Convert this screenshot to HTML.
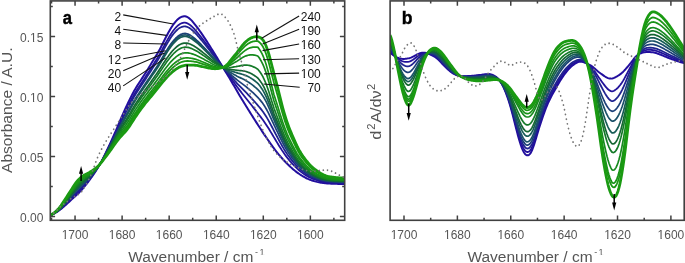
<!DOCTYPE html>
<html><head><meta charset="utf-8"><style>
html,body{margin:0;padding:0;background:#fff;}
svg{display:block;font-family:"Liberation Sans",sans-serif;will-change:transform;}
</style></head><body>
<svg width="685" height="263" viewBox="0 0 685 263">
<rect x="0" y="0" width="685" height="263" fill="#fff"/>
<defs><clipPath id="ca"><rect x="50.30" y="0.90" width="294.40" height="219.40"/></clipPath>
<clipPath id="cb"><rect x="390.10" y="0.90" width="294.10" height="219.40"/></clipPath></defs>
<g clip-path="url(#ca)">
<path d="M50.0 215.25L51.0 214.97L52.0 214.58L53.0 214.11L54.0 213.59L55.0 213.04L56.0 212.45L57.0 211.83L58.0 211.16L59.0 210.45L60.0 209.71L61.0 208.94L62.0 208.14L63.0 207.32L64.0 206.48L65.0 205.61L66.0 204.71L67.0 203.79L68.0 202.86L69.0 201.92L70.0 200.98L71.0 200.04L72.0 199.11L73.0 198.20L74.0 197.29L75.0 196.39L76.0 195.49L77.0 194.58L78.0 193.65L79.0 192.68L80.0 191.67L81.0 190.62L82.0 189.52L83.0 188.37L84.0 187.18L85.0 185.94L86.0 184.68L87.0 183.39L88.0 182.08L89.0 180.74L90.0 179.39L91.0 178.01L92.0 176.59L93.0 175.15L94.0 173.67L95.0 172.16L96.0 170.62L97.0 169.03L98.0 167.41L99.0 165.74L100.0 164.03L101.0 162.25L102.0 160.42L103.0 158.51L104.0 156.53L105.0 154.49L106.0 152.40L107.0 150.28L108.0 148.14L109.0 145.99L110.0 143.84L111.0 141.67L112.0 139.48L113.0 137.26L114.0 135.02L115.0 132.75L116.0 130.43L117.0 128.07L118.0 125.66L119.0 123.23L120.0 120.80L121.0 118.41L122.0 116.08L123.0 113.80L124.0 111.58L125.0 109.41L126.0 107.26L127.0 105.15L128.0 103.05L129.0 100.97L130.0 98.90L131.0 96.86L132.0 94.87L133.0 92.95L134.0 91.12L135.0 89.39L136.0 87.73L137.0 86.14L138.0 84.58L139.0 83.04L140.0 81.49L141.0 79.94L142.0 78.39L143.0 76.84L144.0 75.29L145.0 73.73L146.0 72.16L147.0 70.58L148.0 68.97L149.0 67.34L150.0 65.69L151.0 64.02L152.0 62.35L153.0 60.68L154.0 59.03L155.0 57.40L156.0 55.79L157.0 54.16L158.0 52.50L159.0 50.77L160.0 48.95L161.0 47.04L162.0 45.05L163.0 43.02L164.0 40.99L165.0 39.00L166.0 37.06L167.0 35.17L168.0 33.32L169.0 31.50L170.0 29.74L171.0 28.05L172.0 26.46L173.0 24.98L174.0 23.61L175.0 22.34L176.0 21.16L177.0 20.08L178.0 19.12L179.0 18.31L180.0 17.64L181.0 17.11L182.0 16.69L183.0 16.40L184.0 16.25L185.0 16.29L186.0 16.52L187.0 16.93L188.0 17.47L189.0 18.14L190.0 18.93L191.0 19.86L192.0 20.92L193.0 22.07L194.0 23.28L195.0 24.52L196.0 25.79L197.0 27.10L198.0 28.45L199.0 29.83L200.0 31.25L201.0 32.69L202.0 34.14L203.0 35.61L204.0 37.09L205.0 38.59L206.0 40.11L207.0 41.65L208.0 43.20L209.0 44.76L210.0 46.34L211.0 47.92L212.0 49.51L213.0 51.11L214.0 52.72L215.0 54.34L216.0 55.97L217.0 57.61L218.0 59.25L219.0 60.90L220.0 62.55L221.0 64.20L222.0 65.85L223.0 67.49L224.0 69.13L225.0 70.77L226.0 72.40L227.0 74.04L228.0 75.69L229.0 77.34L230.0 79.01L231.0 80.70L232.0 82.41L233.0 84.13L234.0 85.86L235.0 87.60L236.0 89.34L237.0 91.07L238.0 92.78L239.0 94.48L240.0 96.15L241.0 97.81L242.0 99.46L243.0 101.09L244.0 102.72L245.0 104.34L246.0 105.96L247.0 107.57L248.0 109.18L249.0 110.78L250.0 112.38L251.0 113.97L252.0 115.56L253.0 117.15L254.0 118.72L255.0 120.29L256.0 121.85L257.0 123.41L258.0 124.96L259.0 126.50L260.0 128.03L261.0 129.56L262.0 131.08L263.0 132.59L264.0 134.10L265.0 135.59L266.0 137.06L267.0 138.53L268.0 139.98L269.0 141.42L270.0 142.85L271.0 144.27L272.0 145.68L273.0 147.07L274.0 148.43L275.0 149.76L276.0 151.07L277.0 152.34L278.0 153.58L279.0 154.79L280.0 155.97L281.0 157.12L282.0 158.25L283.0 159.36L284.0 160.45L285.0 161.52L286.0 162.57L287.0 163.59L288.0 164.58L289.0 165.54L290.0 166.47L291.0 167.38L292.0 168.27L293.0 169.14L294.0 169.98L295.0 170.81L296.0 171.60L297.0 172.37L298.0 173.10L299.0 173.80L300.0 174.47L301.0 175.11L302.0 175.73L303.0 176.33L304.0 176.91L305.0 177.47L306.0 178.00L307.0 178.49L308.0 178.95L309.0 179.38L310.0 179.77L311.0 180.13L312.0 180.47L313.0 180.79L314.0 181.09L315.0 181.38L316.0 181.64L317.0 181.89L318.0 182.11L319.0 182.30L320.0 182.48L321.0 182.64L322.0 182.79L323.0 182.93L324.0 183.06L325.0 183.18L326.0 183.28L327.0 183.38L328.0 183.46L329.0 183.53L330.0 183.59L331.0 183.64L332.0 183.68L333.0 183.73L334.0 183.76L335.0 183.80L336.0 183.83L337.0 183.87L338.0 183.89L339.0 183.92L340.0 183.94L341.0 183.96L342.0 183.98L343.0 183.99L344.0 183.99L345.0 184.00" stroke="#220e9e" stroke-width="2.00" fill="none" stroke-linejoin="round"/>
<path d="M50.0 215.24L51.0 214.95L52.0 214.54L53.0 214.05L54.0 213.51L55.0 212.93L56.0 212.30L57.0 211.63L58.0 210.92L59.0 210.15L60.0 209.34L61.0 208.49L62.0 207.61L63.0 206.70L64.0 205.77L65.0 204.81L66.0 203.83L67.0 202.83L68.0 201.82L69.0 200.80L70.0 199.77L71.0 198.76L72.0 197.75L73.0 196.75L74.0 195.77L75.0 194.79L76.0 193.83L77.0 192.87L78.0 191.90L79.0 190.92L80.0 189.92L81.0 188.90L82.0 187.84L83.0 186.75L84.0 185.63L85.0 184.49L86.0 183.33L87.0 182.14L88.0 180.92L89.0 179.69L90.0 178.44L91.0 177.16L92.0 175.85L93.0 174.50L94.0 173.13L95.0 171.72L96.0 170.27L97.0 168.79L98.0 167.25L99.0 165.67L100.0 164.03L101.0 162.33L102.0 160.57L103.0 158.74L104.0 156.85L105.0 154.91L106.0 152.92L107.0 150.90L108.0 148.87L109.0 146.82L110.0 144.76L111.0 142.69L112.0 140.60L113.0 138.49L114.0 136.36L115.0 134.19L116.0 132.00L117.0 129.77L118.0 127.50L119.0 125.23L120.0 122.97L121.0 120.74L122.0 118.57L123.0 116.45L124.0 114.38L125.0 112.34L126.0 110.32L127.0 108.32L128.0 106.32L129.0 104.33L130.0 102.34L131.0 100.36L132.0 98.43L133.0 96.55L134.0 94.76L135.0 93.05L136.0 91.42L137.0 89.85L138.0 88.30L139.0 86.78L140.0 85.25L141.0 83.72L142.0 82.19L143.0 80.67L144.0 79.15L145.0 77.63L146.0 76.11L147.0 74.57L148.0 73.01L149.0 71.44L150.0 69.84L151.0 68.24L152.0 66.63L153.0 65.02L154.0 63.43L155.0 61.85L156.0 60.28L157.0 58.70L158.0 57.09L159.0 55.42L160.0 53.67L161.0 51.85L162.0 49.96L163.0 48.04L164.0 46.12L165.0 44.24L166.0 42.41L167.0 40.63L168.0 38.88L169.0 37.17L170.0 35.51L171.0 33.91L172.0 32.41L173.0 31.02L174.0 29.72L175.0 28.52L176.0 27.40L177.0 26.38L178.0 25.46L179.0 24.68L180.0 24.04L181.0 23.52L182.0 23.11L183.0 22.82L184.0 22.66L185.0 22.67L186.0 22.85L187.0 23.19L188.0 23.66L189.0 24.23L190.0 24.92L191.0 25.74L192.0 26.66L193.0 27.66L194.0 28.72L195.0 29.81L196.0 30.93L197.0 32.09L198.0 33.28L199.0 34.51L200.0 35.77L201.0 37.06L202.0 38.35L203.0 39.66L204.0 40.98L205.0 42.31L206.0 43.66L207.0 45.02L208.0 46.40L209.0 47.79L210.0 49.18L211.0 50.56L212.0 51.95L213.0 53.34L214.0 54.74L215.0 56.14L216.0 57.56L217.0 58.97L218.0 60.39L219.0 61.81L220.0 63.23L221.0 64.65L222.0 66.07L223.0 67.48L224.0 68.87L225.0 70.25L226.0 71.62L227.0 72.97L228.0 74.32L229.0 75.68L230.0 77.04L231.0 78.42L232.0 79.82L233.0 81.20L234.0 82.58L235.0 83.97L236.0 85.35L237.0 86.71L238.0 88.05L239.0 89.36L240.0 90.66L241.0 91.93L242.0 93.19L243.0 94.45L244.0 95.70L245.0 96.96L246.0 98.21L247.0 99.47L248.0 100.73L249.0 101.99L250.0 103.26L251.0 104.53L252.0 105.81L253.0 107.08L254.0 108.36L255.0 109.64L256.0 110.92L257.0 112.20L258.0 113.50L259.0 114.77L260.0 116.06L261.0 117.36L262.0 118.68L263.0 120.04L264.0 121.45L265.0 122.89L266.0 124.38L267.0 125.90L268.0 127.46L269.0 129.07L270.0 130.71L271.0 132.39L272.0 134.07L273.0 135.73L274.0 137.37L275.0 139.07L276.0 140.75L277.0 142.40L278.0 144.04L279.0 145.66L280.0 147.26L281.0 148.83L282.0 150.37L283.0 151.87L284.0 153.33L285.0 154.74L286.0 156.11L287.0 157.42L288.0 158.69L289.0 159.90L290.0 161.07L291.0 162.20L292.0 163.30L293.0 164.38L294.0 165.44L295.0 166.48L296.0 167.49L297.0 168.46L298.0 169.38L299.0 170.25L300.0 171.08L301.0 171.87L302.0 172.63L303.0 173.36L304.0 174.06L305.0 174.73L306.0 175.37L307.0 175.98L308.0 176.55L309.0 177.08L310.0 177.57L311.0 178.03L312.0 178.45L313.0 178.86L314.0 179.24L315.0 179.60L316.0 179.93L317.0 180.25L318.0 180.53L319.0 180.80L320.0 181.05L321.0 181.28L322.0 181.50L323.0 181.69L324.0 181.87L325.0 182.03L326.0 182.17L327.0 182.29L328.0 182.40L329.0 182.50L330.0 182.58L331.0 182.65L332.0 182.71L333.0 182.77L334.0 182.82L335.0 182.87L336.0 182.91L337.0 182.95L338.0 182.98L339.0 183.01L340.0 183.04L341.0 183.06L342.0 183.08L343.0 183.09L344.0 183.10L345.0 183.11" stroke="#22129a" stroke-width="1.80" fill="none" stroke-linejoin="round"/>
<path d="M50.0 215.24L51.0 214.94L52.0 214.52L53.0 214.01L54.0 213.46L55.0 212.86L56.0 212.21L57.0 211.52L58.0 210.78L59.0 209.98L60.0 209.13L61.0 208.24L62.0 207.30L63.0 206.34L64.0 205.36L65.0 204.35L66.0 203.32L67.0 202.28L68.0 201.22L69.0 200.15L70.0 199.08L71.0 198.02L72.0 196.96L73.0 195.92L74.0 194.89L75.0 193.87L76.0 192.87L77.0 191.88L78.0 190.90L79.0 189.91L80.0 188.92L81.0 187.90L82.0 186.87L83.0 185.82L84.0 184.74L85.0 183.65L86.0 182.54L87.0 181.41L88.0 180.26L89.0 179.08L90.0 177.89L91.0 176.67L92.0 175.41L93.0 174.13L94.0 172.81L95.0 171.46L96.0 170.07L97.0 168.64L98.0 167.16L99.0 165.62L100.0 164.03L101.0 162.37L102.0 160.65L103.0 158.87L104.0 157.04L105.0 155.15L106.0 153.22L107.0 151.26L108.0 149.29L109.0 147.30L110.0 145.30L111.0 143.29L112.0 141.25L113.0 139.20L114.0 137.12L115.0 135.03L116.0 132.90L117.0 130.74L118.0 128.57L119.0 126.38L120.0 124.22L121.0 122.09L122.0 120.01L123.0 117.98L124.0 115.99L125.0 114.03L126.0 112.08L127.0 110.15L128.0 108.21L129.0 106.27L130.0 104.32L131.0 102.38L132.0 100.48L133.0 98.63L134.0 96.86L135.0 95.17L136.0 93.55L137.0 91.98L138.0 90.45L139.0 88.93L140.0 87.42L141.0 85.90L142.0 84.39L143.0 82.89L144.0 81.38L145.0 79.88L146.0 78.38L147.0 76.87L148.0 75.34L149.0 73.80L150.0 72.24L151.0 70.67L152.0 69.10L153.0 67.53L154.0 65.97L155.0 64.41L156.0 62.87L157.0 61.32L158.0 59.74L159.0 58.10L160.0 56.40L161.0 54.63L162.0 52.79L163.0 50.94L164.0 49.08L165.0 47.26L166.0 45.50L167.0 43.78L168.0 42.09L169.0 40.44L170.0 38.84L171.0 37.30L172.0 35.85L173.0 34.50L174.0 33.25L175.0 32.09L176.0 31.01L177.0 30.01L178.0 29.12L179.0 28.36L180.0 27.73L181.0 27.22L182.0 26.81L183.0 26.52L184.0 26.36L185.0 26.35L186.0 26.50L187.0 26.80L188.0 27.22L189.0 27.75L190.0 28.38L191.0 29.12L192.0 29.97L193.0 30.89L194.0 31.87L195.0 32.87L196.0 33.90L197.0 34.96L198.0 36.07L199.0 37.21L200.0 38.38L201.0 39.58L202.0 40.78L203.0 42.00L204.0 43.22L205.0 44.45L206.0 45.70L207.0 46.97L208.0 48.24L209.0 49.53L210.0 50.82L211.0 52.11L212.0 53.40L213.0 54.69L214.0 55.98L215.0 57.27L216.0 58.56L217.0 59.85L218.0 61.13L219.0 62.41L220.0 63.69L221.0 64.96L222.0 66.22L223.0 67.47L224.0 68.69L225.0 69.88L226.0 71.04L227.0 72.17L228.0 73.28L229.0 74.38L230.0 75.48L231.0 76.59L232.0 77.72L233.0 78.83L234.0 79.94L235.0 81.06L236.0 82.18L237.0 83.27L238.0 84.34L239.0 85.38L240.0 86.40L241.0 87.41L242.0 88.41L243.0 89.41L244.0 90.41L245.0 91.43L246.0 92.45L247.0 93.48L248.0 94.53L249.0 95.58L250.0 96.64L251.0 97.72L252.0 98.81L253.0 99.91L254.0 101.02L255.0 102.13L256.0 103.26L257.0 104.40L258.0 105.56L259.0 106.73L260.0 107.93L261.0 109.16L262.0 110.43L263.0 111.77L264.0 113.19L265.0 114.69L266.0 116.26L267.0 117.89L268.0 119.59L269.0 121.38L270.0 123.23L271.0 125.13L272.0 127.04L273.0 128.93L274.0 130.80L275.0 132.72L276.0 134.61L277.0 136.49L278.0 138.37L279.0 140.23L280.0 142.08L281.0 143.91L282.0 145.69L283.0 147.42L284.0 149.09L285.0 150.71L286.0 152.26L287.0 153.76L288.0 155.19L289.0 156.55L290.0 157.86L291.0 159.12L292.0 160.35L293.0 161.56L294.0 162.74L295.0 163.91L296.0 165.04L297.0 166.13L298.0 167.17L299.0 168.15L300.0 169.07L301.0 169.95L302.0 170.78L303.0 171.59L304.0 172.36L305.0 173.10L306.0 173.81L307.0 174.48L308.0 175.12L309.0 175.71L310.0 176.26L311.0 176.78L312.0 177.26L313.0 177.71L314.0 178.14L315.0 178.54L316.0 178.92L317.0 179.27L318.0 179.60L319.0 179.91L320.0 180.20L321.0 180.47L322.0 180.73L323.0 180.96L324.0 181.17L325.0 181.35L326.0 181.51L327.0 181.65L328.0 181.77L329.0 181.88L330.0 181.98L331.0 182.06L332.0 182.13L333.0 182.20L334.0 182.26L335.0 182.31L336.0 182.36L337.0 182.40L338.0 182.44L339.0 182.47L340.0 182.50L341.0 182.53L342.0 182.55L343.0 182.56L344.0 182.57L345.0 182.58" stroke="#1f2290" stroke-width="1.80" fill="none" stroke-linejoin="round"/>
<path d="M50.0 215.23L51.0 214.91L52.0 214.47L53.0 213.95L54.0 213.36L55.0 212.73L56.0 212.05L57.0 211.31L58.0 210.51L59.0 209.65L60.0 208.72L61.0 207.74L62.0 206.71L63.0 205.65L64.0 204.56L65.0 203.46L66.0 202.34L67.0 201.20L68.0 200.05L69.0 198.90L70.0 197.74L71.0 196.59L72.0 195.45L73.0 194.31L74.0 193.19L75.0 192.09L76.0 191.01L77.0 189.97L78.0 188.95L79.0 187.95L80.0 186.96L81.0 185.98L82.0 184.99L83.0 184.01L84.0 183.03L85.0 182.04L86.0 181.03L87.0 180.01L88.0 178.97L89.0 177.91L90.0 176.83L91.0 175.72L92.0 174.58L93.0 173.41L94.0 172.21L95.0 170.97L96.0 169.69L97.0 168.36L98.0 166.98L99.0 165.54L100.0 164.03L101.0 162.46L102.0 160.82L103.0 159.13L104.0 157.39L105.0 155.61L106.0 153.80L107.0 151.95L108.0 150.09L109.0 148.22L110.0 146.33L111.0 144.43L112.0 142.51L113.0 140.57L114.0 138.61L115.0 136.63L116.0 134.64L117.0 132.63L118.0 130.62L119.0 128.61L120.0 126.63L121.0 124.69L122.0 122.79L123.0 120.93L124.0 119.11L125.0 117.30L126.0 115.50L127.0 113.69L128.0 111.86L129.0 110.02L130.0 108.16L131.0 106.29L132.0 104.45L133.0 102.65L134.0 100.92L135.0 99.26L136.0 97.66L137.0 96.12L138.0 94.60L139.0 93.10L140.0 91.61L141.0 90.12L142.0 88.64L143.0 87.16L144.0 85.70L145.0 84.24L146.0 82.78L147.0 81.32L148.0 79.85L149.0 78.37L150.0 76.88L151.0 75.38L152.0 73.87L153.0 72.37L154.0 70.87L155.0 69.37L156.0 67.88L157.0 66.38L158.0 64.86L159.0 63.29L160.0 61.67L161.0 59.99L162.0 58.27L163.0 56.54L164.0 54.81L165.0 53.11L166.0 51.46L167.0 49.86L168.0 48.29L169.0 46.76L170.0 45.27L171.0 43.84L172.0 42.49L173.0 41.24L174.0 40.07L175.0 38.99L176.0 37.97L177.0 37.04L178.0 36.20L179.0 35.47L180.0 34.86L181.0 34.37L182.0 33.97L183.0 33.68L184.0 33.51L185.0 33.46L186.0 33.56L187.0 33.79L188.0 34.12L189.0 34.55L190.0 35.07L191.0 35.68L192.0 36.37L193.0 37.14L194.0 37.94L195.0 38.77L196.0 39.63L197.0 40.53L198.0 41.46L199.0 42.43L200.0 43.43L201.0 44.45L202.0 45.48L203.0 46.51L204.0 47.55L205.0 48.60L206.0 49.66L207.0 50.73L208.0 51.81L209.0 52.90L210.0 53.99L211.0 55.02L212.0 56.06L213.0 57.10L214.0 58.13L215.0 59.17L216.0 60.21L217.0 61.25L218.0 62.29L219.0 63.33L220.0 64.37L221.0 65.40L222.0 66.44L223.0 67.45L224.0 68.45L225.0 69.40L226.0 70.32L227.0 71.21L228.0 72.08L229.0 72.94L230.0 73.81L231.0 74.70L232.0 75.61L233.0 76.45L234.0 77.30L235.0 78.16L236.0 79.00L237.0 79.83L238.0 80.63L239.0 81.40L240.0 82.15L241.0 82.89L242.0 83.63L243.0 84.37L244.0 85.12L245.0 85.89L246.0 86.69L247.0 87.50L248.0 88.32L249.0 89.16L250.0 90.02L251.0 90.90L252.0 91.81L253.0 92.74L254.0 93.68L255.0 94.63L256.0 95.60L257.0 96.60L258.0 97.62L259.0 98.74L260.0 99.89L261.0 101.10L262.0 102.37L263.0 103.73L264.0 105.21L265.0 106.81L266.0 108.50L267.0 110.28L268.0 112.17L269.0 114.17L270.0 116.26L271.0 118.40L272.0 120.57L273.0 122.71L274.0 124.82L275.0 126.94L276.0 129.03L277.0 131.12L278.0 133.21L279.0 135.30L280.0 137.38L281.0 139.43L282.0 141.43L283.0 143.37L284.0 145.24L285.0 147.04L286.0 148.77L287.0 150.42L288.0 152.00L289.0 153.50L290.0 154.94L291.0 156.32L292.0 157.66L293.0 158.99L294.0 160.29L295.0 161.57L296.0 162.81L297.0 164.01L298.0 165.15L299.0 166.23L300.0 167.24L301.0 168.19L302.0 169.11L303.0 169.98L304.0 170.81L305.0 171.62L306.0 172.39L307.0 173.12L308.0 173.82L309.0 174.47L310.0 175.08L311.0 175.64L312.0 176.17L313.0 176.66L314.0 177.13L315.0 177.57L316.0 177.99L317.0 178.38L318.0 178.75L319.0 179.10L320.0 179.43L321.0 179.74L322.0 180.03L323.0 180.29L324.0 180.52L325.0 180.73L326.0 180.91L327.0 181.06L328.0 181.20L329.0 181.32L330.0 181.43L331.0 181.52L332.0 181.61L333.0 181.68L334.0 181.75L335.0 181.80L336.0 181.86L337.0 181.90L338.0 181.94L339.0 181.98L340.0 182.01L341.0 182.04L342.0 182.07L343.0 182.08L344.0 182.09L345.0 182.10" stroke="#1c4078" stroke-width="1.70" fill="none" stroke-linejoin="round"/>
<path d="M50.0 215.22L51.0 214.91L52.0 214.46L53.0 213.93L54.0 213.34L55.0 212.70L56.0 212.01L57.0 211.26L58.0 210.45L59.0 209.58L60.0 208.64L61.0 207.64L62.0 206.59L63.0 205.51L64.0 204.40L65.0 203.28L66.0 202.14L67.0 200.98L68.0 199.81L69.0 198.64L70.0 197.46L71.0 196.30L72.0 195.13L73.0 193.98L74.0 192.84L75.0 191.72L76.0 190.62L77.0 189.57L78.0 188.55L79.0 187.55L80.0 186.56L81.0 185.58L82.0 184.61L83.0 183.64L84.0 182.67L85.0 181.70L86.0 180.72L87.0 179.72L88.0 178.71L89.0 177.67L90.0 176.61L91.0 175.52L92.0 174.41L93.0 173.26L94.0 172.08L95.0 170.87L96.0 169.61L97.0 168.31L98.0 166.95L99.0 165.52L100.0 164.03L101.0 162.47L102.0 160.86L103.0 159.19L104.0 157.47L105.0 155.71L106.0 153.92L107.0 152.10L108.0 150.26L109.0 148.41L110.0 146.55L111.0 144.67L112.0 142.77L113.0 140.85L114.0 138.92L115.0 136.97L116.0 135.00L117.0 133.03L118.0 131.05L119.0 129.08L120.0 127.13L121.0 125.23L122.0 123.36L123.0 121.54L124.0 119.75L125.0 117.97L126.0 116.20L127.0 114.42L128.0 112.62L129.0 110.79L130.0 108.95L131.0 107.10L132.0 105.27L133.0 103.49L134.0 101.76L135.0 100.10L136.0 98.51L137.0 96.97L138.0 95.46L139.0 93.97L140.0 92.48L141.0 90.99L142.0 89.52L143.0 88.05L144.0 86.59L145.0 85.14L146.0 83.69L147.0 82.24L148.0 80.78L149.0 79.32L150.0 77.84L151.0 76.35L152.0 74.86L153.0 73.37L154.0 71.88L155.0 70.40L156.0 68.92L157.0 67.43L158.0 65.91L159.0 64.36L160.0 62.76L161.0 61.10L162.0 59.41L163.0 57.69L164.0 55.99L165.0 54.32L166.0 52.70L167.0 51.12L168.0 49.58L169.0 48.07L170.0 46.60L171.0 45.20L172.0 43.87L173.0 42.63L174.0 41.48L175.0 40.41L176.0 39.41L177.0 38.49L178.0 37.66L179.0 36.94L180.0 36.34L181.0 35.85L182.0 35.46L183.0 35.16L184.0 34.99L185.0 34.94L186.0 35.02L187.0 35.23L188.0 35.55L189.0 35.96L190.0 36.45L191.0 37.03L192.0 37.70L193.0 38.43L194.0 39.20L195.0 39.99L196.0 40.82L197.0 41.68L198.0 42.58L199.0 43.51L200.0 44.47L201.0 45.46L202.0 46.45L203.0 47.45L204.0 48.45L205.0 49.46L206.0 50.48L207.0 51.51L208.0 52.55L209.0 53.60L210.0 54.65L211.0 55.70L212.0 56.74L213.0 57.78L214.0 58.81L215.0 59.83L216.0 60.83L217.0 61.82L218.0 62.79L219.0 63.76L220.0 64.71L221.0 65.64L222.0 66.56L223.0 67.45L224.0 68.28L225.0 69.06L226.0 69.78L227.0 70.44L228.0 71.06L229.0 71.64L230.0 72.20L231.0 72.75L232.0 73.31L233.0 73.87L234.0 74.44L235.0 75.02L236.0 75.59L237.0 76.14L238.0 76.66L239.0 77.16L240.0 77.64L241.0 78.11L242.0 78.58L243.0 79.07L244.0 79.58L245.0 80.12L246.0 80.69L247.0 81.28L248.0 81.90L249.0 82.54L250.0 83.22L251.0 83.92L252.0 84.67L253.0 85.44L254.0 86.23L255.0 87.05L256.0 87.89L257.0 88.76L258.0 89.69L259.0 90.83L260.0 92.04L261.0 93.31L262.0 94.67L263.0 96.16L264.0 97.79L265.0 99.57L266.0 101.47L267.0 103.49L268.0 105.63L269.0 107.91L270.0 110.29L271.0 112.75L272.0 115.21L273.0 117.65L274.0 120.04L275.0 122.32L276.0 124.57L277.0 126.83L278.0 129.08L279.0 131.35L280.0 133.61L281.0 135.85L282.0 138.03L283.0 140.14L284.0 142.16L285.0 144.11L286.0 145.98L287.0 147.76L288.0 149.46L289.0 151.07L290.0 152.60L291.0 154.08L292.0 155.52L293.0 156.93L294.0 158.32L295.0 159.70L296.0 161.03L297.0 162.32L298.0 163.54L299.0 164.69L300.0 165.77L301.0 166.79L302.0 167.76L303.0 168.69L304.0 169.58L305.0 170.43L306.0 171.25L307.0 172.04L308.0 172.78L309.0 173.48L310.0 174.13L311.0 174.73L312.0 175.30L313.0 175.83L314.0 176.33L315.0 176.80L316.0 177.25L317.0 177.67L318.0 178.07L319.0 178.45L320.0 178.81L321.0 179.15L322.0 179.47L323.0 179.76L324.0 180.01L325.0 180.23L326.0 180.42L327.0 180.59L328.0 180.74L329.0 180.88L330.0 180.99L331.0 181.10L332.0 181.19L333.0 181.27L334.0 181.34L335.0 181.40L336.0 181.45L337.0 181.50L338.0 181.55L339.0 181.59L340.0 181.62L341.0 181.65L342.0 181.68L343.0 181.70L344.0 181.71L345.0 181.72" stroke="#1a5068" stroke-width="1.70" fill="none" stroke-linejoin="round"/>
<path d="M50.0 215.22L51.0 214.90L52.0 214.46L53.0 213.92L54.0 213.32L55.0 212.67L56.0 211.98L57.0 211.22L58.0 210.40L59.0 209.51L60.0 208.55L61.0 207.53L62.0 206.47L63.0 205.36L64.0 204.24L65.0 203.09L66.0 201.93L67.0 200.76L68.0 199.57L69.0 198.38L70.0 197.19L71.0 196.00L72.0 194.82L73.0 193.65L74.0 192.49L75.0 191.35L76.0 190.24L77.0 189.17L78.0 188.14L79.0 187.14L80.0 186.16L81.0 185.18L82.0 184.22L83.0 183.26L84.0 182.31L85.0 181.37L86.0 180.41L87.0 179.43L88.0 178.44L89.0 177.43L90.0 176.39L91.0 175.33L92.0 174.23L93.0 173.11L94.0 171.96L95.0 170.76L96.0 169.53L97.0 168.25L98.0 166.91L99.0 165.50L100.0 164.03L101.0 162.49L102.0 160.89L103.0 159.24L104.0 157.54L105.0 155.80L106.0 154.04L107.0 152.24L108.0 150.43L109.0 148.60L110.0 146.76L111.0 144.91L112.0 143.03L113.0 141.14L114.0 139.22L115.0 137.30L116.0 135.36L117.0 133.42L118.0 131.47L119.0 129.54L120.0 127.63L121.0 125.76L122.0 123.94L123.0 122.15L124.0 120.40L125.0 118.65L126.0 116.91L127.0 115.15L128.0 113.37L129.0 111.57L130.0 109.74L131.0 107.91L132.0 106.09L133.0 104.32L134.0 102.60L135.0 100.95L136.0 99.36L137.0 97.83L138.0 96.32L139.0 94.83L140.0 93.34L141.0 91.86L142.0 90.39L143.0 88.93L144.0 87.48L145.0 86.04L146.0 84.60L147.0 83.16L148.0 81.72L149.0 80.26L150.0 78.80L151.0 77.33L152.0 75.85L153.0 74.37L154.0 72.90L155.0 71.43L156.0 69.96L157.0 68.48L158.0 66.97L159.0 65.43L160.0 63.85L161.0 62.21L162.0 60.54L163.0 58.85L164.0 57.18L165.0 55.53L166.0 53.93L167.0 52.38L168.0 50.86L169.0 49.38L170.0 47.93L171.0 46.55L172.0 45.24L173.0 44.02L174.0 42.89L175.0 41.84L176.0 40.86L177.0 39.94L178.0 39.12L179.0 38.41L180.0 37.81L181.0 37.33L182.0 36.94L183.0 36.65L184.0 36.47L185.0 36.41L186.0 36.48L187.0 36.68L188.0 36.98L189.0 37.36L190.0 37.83L191.0 38.39L192.0 39.02L193.0 39.72L194.0 40.45L195.0 41.21L196.0 42.00L197.0 42.83L198.0 43.69L199.0 44.59L200.0 45.52L201.0 46.46L202.0 47.42L203.0 48.38L204.0 49.35L205.0 50.32L206.0 51.30L207.0 52.29L208.0 53.29L209.0 54.29L210.0 55.30L211.0 56.37L212.0 57.42L213.0 58.45L214.0 59.46L215.0 60.45L216.0 61.42L217.0 62.36L218.0 63.27L219.0 64.16L220.0 65.03L221.0 65.87L222.0 66.67L223.0 67.44L224.0 68.13L225.0 68.75L226.0 69.28L227.0 69.73L228.0 70.11L229.0 70.43L230.0 70.71L231.0 70.96L232.0 71.20L233.0 71.52L234.0 71.85L235.0 72.19L236.0 72.53L237.0 72.85L238.0 73.15L239.0 73.42L240.0 73.68L241.0 73.94L242.0 74.21L243.0 74.50L244.0 74.83L245.0 75.20L246.0 75.61L247.0 76.06L248.0 76.55L249.0 77.06L250.0 77.62L251.0 78.22L252.0 78.87L253.0 79.55L254.0 80.27L255.0 81.02L256.0 81.80L257.0 82.63L258.0 83.52L259.0 84.74L260.0 86.04L261.0 87.42L262.0 88.91L263.0 90.55L264.0 92.36L265.0 94.33L266.0 96.45L267.0 98.70L268.0 101.09L269.0 103.62L270.0 106.28L271.0 109.00L272.0 111.72L273.0 114.41L274.0 117.05L275.0 119.43L276.0 121.78L277.0 124.14L278.0 126.50L279.0 128.88L280.0 131.26L281.0 133.61L282.0 135.90L283.0 138.11L284.0 140.24L285.0 142.28L286.0 144.23L287.0 146.09L288.0 147.86L289.0 149.54L290.0 151.14L291.0 152.68L292.0 154.17L293.0 155.64L294.0 157.10L295.0 158.53L296.0 159.92L297.0 161.26L298.0 162.54L299.0 163.74L300.0 164.86L301.0 165.92L302.0 166.92L303.0 167.88L304.0 168.81L305.0 169.69L306.0 170.54L307.0 171.36L308.0 172.13L309.0 172.85L310.0 173.53L311.0 174.16L312.0 174.75L313.0 175.31L314.0 175.83L315.0 176.32L316.0 176.79L317.0 177.23L318.0 177.65L319.0 178.04L320.0 178.42L321.0 178.78L322.0 179.12L323.0 179.42L324.0 179.69L325.0 179.92L326.0 180.12L327.0 180.30L328.0 180.46L329.0 180.60L330.0 180.72L331.0 180.83L332.0 180.93L333.0 181.01L334.0 181.08L335.0 181.15L336.0 181.20L337.0 181.25L338.0 181.30L339.0 181.34L340.0 181.38L341.0 181.41L342.0 181.44L343.0 181.46L344.0 181.47L345.0 181.48" stroke="#175c56" stroke-width="1.70" fill="none" stroke-linejoin="round"/>
<path d="M50.0 215.21L51.0 214.88L52.0 214.42L53.0 213.86L54.0 213.23L55.0 212.55L56.0 211.82L57.0 211.02L58.0 210.15L59.0 209.20L60.0 208.17L61.0 207.07L62.0 205.91L63.0 204.72L64.0 203.50L65.0 202.26L66.0 201.02L67.0 199.76L68.0 198.49L69.0 197.22L70.0 195.94L71.0 194.67L72.0 193.41L73.0 192.15L74.0 190.90L75.0 189.68L76.0 188.51L77.0 187.39L78.0 186.33L79.0 185.32L80.0 184.34L81.0 183.39L82.0 182.47L83.0 181.58L84.0 180.71L85.0 179.86L86.0 179.00L87.0 178.13L88.0 177.24L89.0 176.33L90.0 175.40L91.0 174.44L92.0 173.46L93.0 172.44L94.0 171.39L95.0 170.30L96.0 169.17L97.0 167.99L98.0 166.74L99.0 165.43L100.0 164.03L101.0 162.57L102.0 161.05L103.0 159.48L104.0 157.88L105.0 156.24L106.0 154.57L107.0 152.88L108.0 151.18L109.0 149.46L110.0 147.73L111.0 145.97L112.0 144.20L113.0 142.41L114.0 140.61L115.0 138.80L116.0 136.98L117.0 135.18L118.0 133.38L119.0 131.61L120.0 129.88L121.0 128.18L122.0 126.53L123.0 124.90L124.0 123.30L125.0 121.70L126.0 120.08L127.0 118.44L128.0 116.77L129.0 115.06L130.0 113.31L131.0 111.55L132.0 109.79L133.0 108.06L134.0 106.38L135.0 104.76L136.0 103.19L137.0 101.67L138.0 100.18L139.0 98.71L140.0 97.25L141.0 95.79L142.0 94.35L143.0 92.92L144.0 91.50L145.0 90.09L146.0 88.70L147.0 87.30L148.0 85.91L149.0 84.52L150.0 83.12L151.0 81.71L152.0 80.30L153.0 78.88L154.0 77.46L155.0 76.04L156.0 74.62L157.0 73.19L158.0 71.74L159.0 70.26L160.0 68.75L161.0 67.21L162.0 65.64L163.0 64.07L164.0 62.51L165.0 60.98L166.0 59.49L167.0 58.05L168.0 56.64L169.0 55.26L170.0 53.92L171.0 52.64L172.0 51.43L173.0 50.30L174.0 49.24L175.0 48.26L176.0 47.34L177.0 46.49L178.0 45.71L179.0 45.03L180.0 44.45L181.0 43.98L182.0 43.60L183.0 43.31L184.0 43.12L185.0 43.03L186.0 43.06L187.0 43.18L188.0 43.40L189.0 43.69L190.0 44.06L191.0 44.49L192.0 44.99L193.0 45.53L194.0 46.11L195.0 46.71L196.0 47.34L197.0 48.01L198.0 48.71L199.0 49.45L200.0 50.22L201.0 51.00L202.0 51.79L203.0 52.59L204.0 53.38L205.0 54.18L206.0 54.98L207.0 55.79L208.0 56.61L209.0 57.43L210.0 58.25L211.0 59.06L212.0 59.87L213.0 60.65L214.0 61.42L215.0 62.17L216.0 62.90L217.0 63.61L218.0 64.29L219.0 64.96L220.0 65.61L221.0 66.25L222.0 66.86L223.0 67.42L224.0 67.93L225.0 68.36L226.0 68.70L227.0 68.96L228.0 69.15L229.0 69.30L230.0 69.41L231.0 69.51L232.0 69.62L233.0 69.74L234.0 69.88L235.0 70.03L236.0 70.18L237.0 70.32L238.0 70.43L239.0 70.52L240.0 70.59L241.0 70.67L242.0 70.77L243.0 70.89L244.0 71.06L245.0 71.28L246.0 71.54L247.0 71.86L248.0 72.20L249.0 72.59L250.0 73.03L251.0 73.52L252.0 74.06L253.0 74.65L254.0 75.28L255.0 75.94L256.0 76.64L257.0 77.40L258.0 78.23L259.0 79.44L260.0 80.74L261.0 82.13L262.0 83.65L263.0 85.34L264.0 87.22L265.0 89.29L266.0 91.53L267.0 93.90L268.0 96.44L269.0 99.14L270.0 101.97L271.0 104.87L272.0 107.78L273.0 110.65L274.0 113.47L275.0 115.96L276.0 118.44L277.0 120.92L278.0 123.41L279.0 125.92L280.0 128.43L281.0 130.92L282.0 133.34L283.0 135.68L284.0 137.93L285.0 140.08L286.0 142.13L287.0 144.09L288.0 145.95L289.0 147.72L290.0 149.39L291.0 151.00L292.0 152.56L293.0 154.10L294.0 155.62L295.0 157.12L296.0 158.59L297.0 159.99L298.0 161.33L299.0 162.58L300.0 163.76L301.0 164.87L302.0 165.92L303.0 166.92L304.0 167.88L305.0 168.80L306.0 169.69L307.0 170.54L308.0 171.35L309.0 172.11L310.0 172.82L311.0 173.48L312.0 174.10L313.0 174.68L314.0 175.23L315.0 175.74L316.0 176.23L317.0 176.70L318.0 177.14L319.0 177.56L320.0 177.96L321.0 178.34L322.0 178.70L323.0 179.02L324.0 179.30L325.0 179.55L326.0 179.76L327.0 179.95L328.0 180.11L329.0 180.26L330.0 180.39L331.0 180.51L332.0 180.61L333.0 180.70L334.0 180.78L335.0 180.84L336.0 180.90L337.0 180.96L338.0 181.00L339.0 181.05L340.0 181.09L341.0 181.12L342.0 181.15L343.0 181.17L344.0 181.18L345.0 181.19" stroke="#146632" stroke-width="1.70" fill="none" stroke-linejoin="round"/>
<path d="M50.0 215.21L51.0 214.87L52.0 214.39L53.0 213.82L54.0 213.17L55.0 212.48L56.0 211.72L57.0 210.89L58.0 209.99L59.0 209.01L60.0 207.93L61.0 206.78L62.0 205.57L63.0 204.31L64.0 203.03L65.0 201.74L66.0 200.44L67.0 199.13L68.0 197.81L69.0 196.48L70.0 195.16L71.0 193.83L72.0 192.52L73.0 191.21L74.0 189.91L75.0 188.64L76.0 187.42L77.0 186.27L78.0 185.19L79.0 184.17L80.0 183.20L81.0 182.26L82.0 181.37L83.0 180.52L84.0 179.71L85.0 178.91L86.0 178.11L87.0 177.31L88.0 176.49L89.0 175.64L90.0 174.78L91.0 173.89L92.0 172.97L93.0 172.02L94.0 171.04L95.0 170.01L96.0 168.95L97.0 167.83L98.0 166.64L99.0 165.38L100.0 164.03L101.0 162.62L102.0 161.15L103.0 159.63L104.0 158.09L105.0 156.51L106.0 154.91L107.0 153.29L108.0 151.65L109.0 150.00L110.0 148.33L111.0 146.65L112.0 144.94L113.0 143.21L114.0 141.48L115.0 139.74L116.0 138.01L117.0 136.29L118.0 134.59L119.0 132.92L120.0 131.29L121.0 129.71L122.0 128.16L123.0 126.63L124.0 125.12L125.0 123.61L126.0 122.08L127.0 120.52L128.0 118.91L129.0 117.26L130.0 115.56L131.0 113.84L132.0 112.12L133.0 110.42L134.0 108.76L135.0 107.16L136.0 105.61L137.0 104.10L138.0 102.62L139.0 101.16L140.0 99.70L141.0 98.26L142.0 96.84L143.0 95.42L144.0 94.03L145.0 92.64L146.0 91.27L147.0 89.91L148.0 88.56L149.0 87.20L150.0 85.83L151.0 84.47L152.0 83.09L153.0 81.72L154.0 80.34L155.0 78.95L156.0 77.56L157.0 76.16L158.0 74.74L159.0 73.30L160.0 71.84L161.0 70.36L162.0 68.86L163.0 67.35L164.0 65.86L165.0 64.40L166.0 62.99L167.0 61.61L168.0 60.27L169.0 58.97L170.0 57.70L171.0 56.48L172.0 55.32L173.0 54.25L174.0 53.24L175.0 52.31L176.0 51.43L177.0 50.61L178.0 49.86L179.0 49.20L180.0 48.64L181.0 48.17L182.0 47.80L183.0 47.51L184.0 47.31L185.0 47.20L186.0 47.19L187.0 47.28L188.0 47.44L189.0 47.68L190.0 47.97L191.0 48.33L192.0 48.74L193.0 49.19L194.0 49.67L195.0 50.17L196.0 50.70L197.0 51.27L198.0 51.87L199.0 52.51L200.0 53.18L201.0 53.86L202.0 54.55L203.0 55.24L204.0 55.92L205.0 56.61L206.0 57.30L207.0 58.00L208.0 58.70L209.0 59.41L210.0 60.11L211.0 60.82L212.0 61.51L213.0 62.18L214.0 62.83L215.0 63.45L216.0 64.04L217.0 64.60L218.0 65.13L219.0 65.64L220.0 66.13L221.0 66.60L222.0 67.03L223.0 67.41L224.0 67.72L225.0 67.93L226.0 68.04L227.0 68.05L228.0 67.97L229.0 67.84L230.0 67.66L231.0 67.46L232.0 67.25L233.0 67.07L234.0 66.91L235.0 66.77L236.0 66.63L237.0 66.46L238.0 66.27L239.0 66.06L240.0 65.83L241.0 65.61L242.0 65.41L243.0 65.25L244.0 65.15L245.0 65.10L246.0 65.11L247.0 65.17L248.0 65.28L249.0 65.44L250.0 65.65L251.0 65.92L252.0 66.27L253.0 66.66L254.0 67.11L255.0 67.59L256.0 68.12L257.0 68.73L258.0 69.41L259.0 70.66L260.0 72.02L261.0 73.50L262.0 75.13L263.0 76.96L264.0 79.02L265.0 81.30L266.0 83.77L267.0 86.41L268.0 89.24L269.0 92.25L270.0 95.41L271.0 98.66L272.0 101.91L273.0 105.11L274.0 108.24L275.0 110.90L276.0 113.56L277.0 116.22L278.0 118.90L279.0 121.60L280.0 124.31L281.0 127.00L282.0 129.62L283.0 132.14L284.0 134.56L285.0 136.87L286.0 139.08L287.0 141.18L288.0 143.17L289.0 145.05L290.0 146.84L291.0 148.55L292.0 150.21L293.0 151.85L294.0 153.47L295.0 155.07L296.0 156.64L297.0 158.14L298.0 159.57L299.0 160.91L300.0 162.16L301.0 163.33L302.0 164.45L303.0 165.51L304.0 166.53L305.0 167.51L306.0 168.45L307.0 169.35L308.0 170.21L309.0 171.02L310.0 171.78L311.0 172.49L312.0 173.14L313.0 173.76L314.0 174.35L315.0 174.90L316.0 175.42L317.0 175.92L318.0 176.39L319.0 176.85L320.0 177.28L321.0 177.70L322.0 178.09L323.0 178.44L324.0 178.74L325.0 179.01L326.0 179.24L327.0 179.43L328.0 179.61L329.0 179.77L330.0 179.91L331.0 180.04L332.0 180.15L333.0 180.25L334.0 180.33L335.0 180.40L336.0 180.46L337.0 180.52L338.0 180.57L339.0 180.62L340.0 180.66L341.0 180.69L342.0 180.72L343.0 180.74L344.0 180.76L345.0 180.77" stroke="#147a28" stroke-width="1.70" fill="none" stroke-linejoin="round"/>
<path d="M50.0 215.20L51.0 214.85L52.0 214.36L53.0 213.76L54.0 213.10L55.0 212.37L56.0 211.58L57.0 210.72L58.0 209.78L59.0 208.74L60.0 207.61L61.0 206.39L62.0 205.10L63.0 203.76L64.0 202.40L65.0 201.03L66.0 199.66L67.0 198.28L68.0 196.89L69.0 195.49L70.0 194.09L71.0 192.70L72.0 191.31L73.0 189.93L74.0 188.56L75.0 187.22L76.0 185.95L77.0 184.76L78.0 183.65L79.0 182.62L80.0 181.65L81.0 180.74L82.0 179.89L83.0 179.09L84.0 178.34L85.0 177.62L86.0 176.92L87.0 176.20L88.0 175.47L89.0 174.71L90.0 173.94L91.0 173.14L92.0 172.31L93.0 171.45L94.0 170.55L95.0 169.62L96.0 168.65L97.0 167.61L98.0 166.50L99.0 165.31L100.0 164.03L101.0 162.68L102.0 161.28L103.0 159.84L104.0 158.37L105.0 156.88L106.0 155.37L107.0 153.84L108.0 152.29L109.0 150.73L110.0 149.15L111.0 147.55L112.0 145.94L113.0 144.30L114.0 142.66L115.0 141.01L116.0 139.39L117.0 137.79L118.0 136.22L119.0 134.69L120.0 133.21L121.0 131.77L122.0 130.36L123.0 128.98L124.0 127.60L125.0 126.20L126.0 124.79L127.0 123.32L128.0 121.81L129.0 120.23L130.0 118.60L131.0 116.94L132.0 115.27L133.0 113.61L134.0 111.98L135.0 110.40L136.0 108.87L137.0 107.38L138.0 105.91L139.0 104.46L140.0 103.03L141.0 101.61L142.0 100.20L143.0 98.82L144.0 97.45L145.0 96.10L146.0 94.76L147.0 93.44L148.0 92.13L149.0 90.82L150.0 89.51L151.0 88.20L152.0 86.88L153.0 85.56L154.0 84.22L155.0 82.88L156.0 81.53L157.0 80.17L158.0 78.80L159.0 77.42L160.0 76.02L161.0 74.61L162.0 73.20L163.0 71.79L164.0 70.40L165.0 69.04L166.0 67.72L167.0 66.44L168.0 65.19L169.0 63.98L170.0 62.80L171.0 61.67L172.0 60.59L173.0 59.59L174.0 58.65L175.0 57.78L176.0 56.95L177.0 56.18L178.0 55.47L179.0 54.84L180.0 54.29L181.0 53.84L182.0 53.48L183.0 53.19L184.0 52.98L185.0 52.85L186.0 52.79L187.0 52.82L188.0 52.91L189.0 53.07L190.0 53.28L191.0 53.53L192.0 53.82L193.0 54.14L194.0 54.49L195.0 54.85L196.0 55.25L197.0 55.68L198.0 56.15L199.0 56.65L200.0 57.18L201.0 57.72L202.0 58.27L203.0 58.82L204.0 59.36L205.0 59.90L206.0 60.44L207.0 60.98L208.0 61.53L209.0 62.08L210.0 62.63L211.0 63.19L212.0 63.73L213.0 64.24L214.0 64.72L215.0 65.17L216.0 65.57L217.0 65.94L218.0 66.27L219.0 66.57L220.0 66.83L221.0 67.07L222.0 67.26L223.0 67.40L224.0 67.44L225.0 67.36L226.0 67.15L227.0 66.82L228.0 66.39L229.0 65.87L230.0 65.29L231.0 64.68L232.0 64.05L233.0 63.45L234.0 62.88L235.0 62.31L236.0 61.74L237.0 61.15L238.0 60.51L239.0 59.86L240.0 59.18L241.0 58.52L242.0 57.88L243.0 57.29L244.0 56.75L245.0 56.29L246.0 55.90L247.0 55.57L248.0 55.29L249.0 55.07L250.0 54.92L251.0 54.84L252.0 54.84L253.0 54.91L254.0 55.04L255.0 55.21L256.0 55.45L257.0 55.76L258.0 56.18L259.0 57.55L260.0 59.05L261.0 60.70L262.0 62.54L263.0 64.64L264.0 67.02L265.0 69.66L266.0 72.54L267.0 75.63L268.0 78.93L269.0 82.46L270.0 86.15L271.0 89.94L272.0 93.72L273.0 97.44L274.0 101.07L275.0 103.97L276.0 106.86L277.0 109.77L278.0 112.71L279.0 115.68L280.0 118.66L281.0 121.62L282.0 124.51L283.0 127.29L284.0 129.94L285.0 132.47L286.0 134.88L287.0 137.18L288.0 139.35L289.0 141.39L290.0 143.33L291.0 145.19L292.0 146.99L293.0 148.77L294.0 150.53L295.0 152.27L296.0 153.97L297.0 155.60L298.0 157.15L299.0 158.61L300.0 159.96L301.0 161.23L302.0 162.44L303.0 163.58L304.0 164.68L305.0 165.73L306.0 166.75L307.0 167.72L308.0 168.65L309.0 169.53L310.0 170.35L311.0 171.12L312.0 171.84L313.0 172.51L314.0 173.14L315.0 173.74L316.0 174.31L317.0 174.86L318.0 175.37L319.0 175.87L320.0 176.36L321.0 176.82L322.0 177.25L323.0 177.63L324.0 177.97L325.0 178.26L326.0 178.51L327.0 178.73L328.0 178.93L329.0 179.10L330.0 179.26L331.0 179.40L332.0 179.52L333.0 179.63L334.0 179.72L335.0 179.80L336.0 179.86L337.0 179.92L338.0 179.98L339.0 180.03L340.0 180.07L341.0 180.11L342.0 180.14L343.0 180.17L344.0 180.18L345.0 180.19" stroke="#168a1e" stroke-width="1.70" fill="none" stroke-linejoin="round"/>
<path d="M50.0 215.19L51.0 214.83L52.0 214.32L53.0 213.71L54.0 213.03L55.0 212.28L56.0 211.46L57.0 210.57L58.0 209.58L59.0 208.50L60.0 207.31L61.0 206.03L62.0 204.67L63.0 203.26L64.0 201.83L65.0 200.39L66.0 198.95L67.0 197.50L68.0 196.05L69.0 194.58L70.0 193.12L71.0 191.67L72.0 190.21L73.0 188.76L74.0 187.33L75.0 185.93L76.0 184.60L77.0 183.37L78.0 182.24L79.0 181.20L80.0 180.24L81.0 179.35L82.0 178.53L83.0 177.78L84.0 177.10L85.0 176.45L86.0 175.82L87.0 175.19L88.0 174.53L89.0 173.86L90.0 173.17L91.0 172.45L92.0 171.70L93.0 170.92L94.0 170.11L95.0 169.26L96.0 168.37L97.0 167.41L98.0 166.37L99.0 165.25L100.0 164.03L101.0 162.74L102.0 161.40L103.0 160.02L104.0 158.63L105.0 157.22L106.0 155.79L107.0 154.34L108.0 152.88L109.0 151.40L110.0 149.90L111.0 148.38L112.0 146.85L113.0 145.29L114.0 143.73L115.0 142.18L116.0 140.65L117.0 139.15L118.0 137.71L119.0 136.31L120.0 134.96L121.0 133.65L122.0 132.37L123.0 131.11L124.0 129.85L125.0 128.57L126.0 127.26L127.0 125.88L128.0 124.45L129.0 122.95L130.0 121.38L131.0 119.77L132.0 118.14L133.0 116.52L134.0 114.92L135.0 113.36L136.0 111.85L137.0 110.37L138.0 108.92L139.0 107.48L140.0 106.07L141.0 104.66L142.0 103.28L143.0 101.91L144.0 100.57L145.0 99.25L146.0 97.95L147.0 96.67L148.0 95.39L149.0 94.13L150.0 92.87L151.0 91.61L152.0 90.34L153.0 89.06L154.0 87.77L155.0 86.47L156.0 85.16L157.0 83.84L158.0 82.51L159.0 81.17L160.0 79.84L161.0 78.50L162.0 77.17L163.0 75.85L164.0 74.55L165.0 73.28L166.0 72.04L167.0 70.85L168.0 69.69L169.0 68.56L170.0 67.46L171.0 66.40L172.0 65.40L173.0 64.47L174.0 63.59L175.0 62.77L176.0 62.00L177.0 61.27L178.0 60.59L179.0 59.98L180.0 59.46L181.0 59.02L182.0 58.66L183.0 58.38L184.0 58.16L185.0 58.00L186.0 57.90L187.0 57.88L188.0 57.91L189.0 57.99L190.0 58.12L191.0 58.27L192.0 58.46L193.0 58.66L194.0 58.88L195.0 59.13L196.0 59.40L197.0 59.71L198.0 60.05L199.0 60.43L200.0 60.83L201.0 61.25L202.0 61.67L203.0 62.09L204.0 62.50L205.0 62.90L206.0 63.30L207.0 63.71L208.0 64.11L209.0 64.52L210.0 64.92L211.0 65.32L212.0 65.69L213.0 66.04L214.0 66.34L215.0 66.61L216.0 66.84L217.0 67.03L218.0 67.18L219.0 67.29L220.0 67.37L221.0 67.42L222.0 67.44L223.0 67.39L224.0 67.23L225.0 66.95L226.0 66.53L227.0 65.98L228.0 65.31L229.0 64.56L230.0 63.75L231.0 62.90L232.0 62.04L233.0 61.17L234.0 60.32L235.0 59.48L236.0 58.64L237.0 57.76L238.0 56.84L239.0 55.88L240.0 54.92L241.0 53.96L242.0 53.02L243.0 52.14L244.0 51.32L245.0 50.57L246.0 49.91L247.0 49.31L248.0 48.77L249.0 48.28L250.0 47.87L251.0 47.55L252.0 47.32L253.0 47.15L254.0 47.05L255.0 47.00L256.0 47.03L257.0 47.14L258.0 47.37L259.0 48.69L260.0 50.16L261.0 51.81L262.0 53.67L263.0 55.82L264.0 58.29L265.0 61.06L266.0 64.10L267.0 67.38L268.0 70.90L269.0 74.68L270.0 78.65L271.0 82.73L272.0 86.80L273.0 90.81L274.0 94.72L275.0 97.83L276.0 100.94L277.0 104.06L278.0 107.23L279.0 110.43L280.0 113.66L281.0 116.86L282.0 119.99L283.0 122.98L284.0 125.85L285.0 128.57L286.0 131.17L287.0 133.64L288.0 135.96L289.0 138.16L290.0 140.23L291.0 142.21L292.0 144.14L293.0 146.04L294.0 147.92L295.0 149.78L296.0 151.60L297.0 153.36L298.0 155.02L299.0 156.57L300.0 158.02L301.0 159.37L302.0 160.65L303.0 161.87L304.0 163.04L305.0 164.16L306.0 165.24L307.0 166.28L308.0 167.27L309.0 168.21L310.0 169.09L311.0 169.91L312.0 170.68L313.0 171.40L314.0 172.08L315.0 172.72L316.0 173.33L317.0 173.91L318.0 174.47L319.0 175.01L320.0 175.54L321.0 176.04L322.0 176.50L323.0 176.92L324.0 177.29L325.0 177.61L326.0 177.87L327.0 178.11L328.0 178.32L329.0 178.51L330.0 178.68L331.0 178.83L332.0 178.96L333.0 179.08L334.0 179.17L335.0 179.26L336.0 179.33L337.0 179.40L338.0 179.45L339.0 179.51L340.0 179.56L341.0 179.60L342.0 179.63L343.0 179.65L344.0 179.67L345.0 179.68" stroke="#189218" stroke-width="1.70" fill="none" stroke-linejoin="round"/>
<path d="M50.0 215.18L51.0 214.82L52.0 214.31L53.0 213.68L54.0 212.99L55.0 212.22L56.0 211.39L57.0 210.47L58.0 209.46L59.0 208.35L60.0 207.13L61.0 205.81L62.0 204.40L63.0 202.95L64.0 201.47L65.0 199.99L66.0 198.51L67.0 197.02L68.0 195.53L69.0 194.02L70.0 192.52L71.0 191.02L72.0 189.53L73.0 188.04L74.0 186.57L75.0 185.13L76.0 183.77L77.0 182.51L78.0 181.37L79.0 180.32L80.0 179.36L81.0 178.48L82.0 177.69L83.0 176.97L84.0 176.33L85.0 175.73L86.0 175.14L87.0 174.56L88.0 173.96L89.0 173.34L90.0 172.69L91.0 172.02L92.0 171.33L93.0 170.60L94.0 169.84L95.0 169.04L96.0 168.20L97.0 167.28L98.0 166.29L99.0 165.21L100.0 164.03L101.0 162.78L102.0 161.48L103.0 160.14L104.0 158.79L105.0 157.43L106.0 156.05L107.0 154.65L108.0 153.24L109.0 151.81L110.0 150.37L111.0 148.90L112.0 147.41L113.0 145.91L114.0 144.40L115.0 142.90L116.0 141.43L117.0 140.00L118.0 138.63L119.0 137.31L120.0 136.04L121.0 134.82L122.0 133.62L123.0 132.44L124.0 131.25L125.0 130.04L126.0 128.78L127.0 127.47L128.0 126.09L129.0 124.63L130.0 123.10L131.0 121.52L132.0 119.92L133.0 118.32L134.0 116.74L135.0 115.19L136.0 113.69L137.0 112.22L138.0 110.78L139.0 109.35L140.0 107.94L141.0 106.55L142.0 105.18L143.0 103.83L144.0 102.50L145.0 101.20L146.0 99.92L147.0 98.66L148.0 97.42L149.0 96.18L150.0 94.95L151.0 93.72L152.0 92.48L153.0 91.23L154.0 89.97L155.0 88.70L156.0 87.41L157.0 86.11L158.0 84.80L159.0 83.50L160.0 82.20L161.0 80.91L162.0 79.63L163.0 78.36L164.0 77.11L165.0 75.90L166.0 74.72L167.0 73.58L168.0 72.47L169.0 71.39L170.0 70.34L171.0 69.34L172.0 68.38L173.0 67.49L174.0 66.65L175.0 65.86L176.0 65.12L177.0 64.42L178.0 63.76L179.0 63.17L180.0 62.66L181.0 62.23L182.0 61.87L183.0 61.59L184.0 61.36L185.0 61.19L186.0 61.07L187.0 61.01L188.0 61.00L189.0 61.04L190.0 61.11L191.0 61.21L192.0 61.33L193.0 61.46L194.0 61.61L195.0 61.77L196.0 61.97L197.0 62.20L198.0 62.47L199.0 62.77L200.0 63.09L201.0 63.43L202.0 63.78L203.0 64.11L204.0 64.44L205.0 64.76L206.0 65.08L207.0 65.39L208.0 65.71L209.0 66.03L210.0 66.34L211.0 66.66L212.0 66.95L213.0 67.20L214.0 67.41L215.0 67.58L216.0 67.70L217.0 67.78L218.0 67.81L219.0 67.81L220.0 67.76L221.0 67.69L222.0 67.57L223.0 67.38L224.0 67.08L225.0 66.63L226.0 66.04L227.0 65.29L228.0 64.43L229.0 63.47L230.0 62.43L231.0 61.36L232.0 60.26L233.0 59.18L234.0 58.11L235.0 57.06L236.0 55.99L237.0 54.90L238.0 53.77L239.0 52.60L240.0 51.42L241.0 50.25L242.0 49.11L243.0 48.03L244.0 47.02L245.0 46.09L246.0 45.25L247.0 44.49L248.0 43.78L249.0 43.15L250.0 42.59L251.0 42.13L252.0 41.77L253.0 41.49L254.0 41.27L255.0 41.11L256.0 41.03L257.0 41.05L258.0 41.19L259.0 41.94L260.0 42.84L261.0 43.91L262.0 45.21L263.0 46.82L264.0 48.79L265.0 51.12L266.0 53.74L267.0 56.66L268.0 59.88L269.0 63.41L270.0 67.21L271.0 71.17L272.0 75.16L273.0 79.11L274.0 82.99L275.0 86.49L276.0 89.99L277.0 93.52L278.0 97.11L279.0 100.75L280.0 104.42L281.0 108.07L282.0 111.63L283.0 115.04L284.0 118.29L285.0 121.38L286.0 124.32L287.0 127.10L288.0 129.72L289.0 132.18L290.0 134.50L291.0 136.72L292.0 138.87L293.0 140.99L294.0 143.10L295.0 145.19L296.0 147.24L297.0 149.20L298.0 151.07L299.0 152.81L300.0 154.42L301.0 155.94L302.0 157.36L303.0 158.71L304.0 160.01L305.0 161.25L306.0 162.45L307.0 163.61L308.0 164.72L309.0 165.77L310.0 166.76L311.0 167.68L312.0 168.54L313.0 169.35L314.0 170.11L315.0 170.83L316.0 171.52L317.0 172.17L318.0 172.80L319.0 173.42L320.0 174.02L321.0 174.59L322.0 175.13L323.0 175.61L324.0 176.03L325.0 176.39L326.0 176.69L327.0 176.96L328.0 177.19L329.0 177.41L330.0 177.60L331.0 177.78L332.0 177.93L333.0 178.06L334.0 178.17L335.0 178.27L336.0 178.35L337.0 178.42L338.0 178.48L339.0 178.54L340.0 178.60L341.0 178.64L342.0 178.68L343.0 178.71L344.0 178.73L345.0 178.74" stroke="#1a9614" stroke-width="1.80" fill="none" stroke-linejoin="round"/>
<path d="M50.0 215.18L51.0 214.81L52.0 214.28L53.0 213.64L54.0 212.93L55.0 212.14L56.0 211.29L57.0 210.34L58.0 209.31L59.0 208.16L60.0 206.89L61.0 205.51L62.0 204.05L63.0 202.54L64.0 201.01L65.0 199.47L66.0 197.93L67.0 196.39L68.0 194.84L69.0 193.29L70.0 191.74L71.0 190.19L72.0 188.64L73.0 187.10L74.0 185.57L75.0 184.08L76.0 182.68L77.0 181.39L78.0 180.23L79.0 179.17L80.0 178.22L81.0 177.36L82.0 176.59L83.0 175.92L84.0 175.32L85.0 174.78L86.0 174.26L87.0 173.74L88.0 173.20L89.0 172.65L90.0 172.07L91.0 171.47L92.0 170.84L93.0 170.18L94.0 169.49L95.0 168.75L96.0 167.97L97.0 167.12L98.0 166.19L99.0 165.16L100.0 164.03L101.0 162.83L102.0 161.58L103.0 160.29L104.0 159.00L105.0 157.70L106.0 156.38L107.0 155.06L108.0 153.71L109.0 152.35L110.0 150.97L111.0 149.57L112.0 148.15L113.0 146.71L114.0 145.27L115.0 143.84L116.0 142.45L117.0 141.11L118.0 139.83L119.0 138.61L120.0 137.45L121.0 136.34L122.0 135.25L123.0 134.17L124.0 133.08L125.0 131.95L126.0 130.78L127.0 129.54L128.0 128.23L129.0 126.82L130.0 125.35L131.0 123.82L132.0 122.25L133.0 120.68L134.0 119.12L135.0 117.59L136.0 116.10L137.0 114.64L138.0 113.21L139.0 111.80L140.0 110.40L141.0 109.03L142.0 107.67L143.0 106.34L144.0 105.03L145.0 103.75L146.0 102.50L147.0 101.27L148.0 100.06L149.0 98.86L150.0 97.67L151.0 96.48L152.0 95.28L153.0 94.07L154.0 92.85L155.0 91.60L156.0 90.35L157.0 89.08L158.0 87.81L159.0 86.54L160.0 85.29L161.0 84.05L162.0 82.84L163.0 81.64L164.0 80.47L165.0 79.33L166.0 78.22L167.0 77.14L168.0 76.10L169.0 75.09L170.0 74.12L171.0 73.17L172.0 72.28L173.0 71.44L174.0 70.65L175.0 69.91L176.0 69.20L177.0 68.54L178.0 67.91L179.0 67.34L180.0 66.84L181.0 66.42L182.0 66.07L183.0 65.79L184.0 65.55L185.0 65.36L186.0 65.21L187.0 65.10L188.0 65.05L189.0 65.03L190.0 65.03L191.0 65.05L192.0 65.08L193.0 65.12L194.0 65.17L195.0 65.23L196.0 65.33L197.0 65.46L198.0 65.63L199.0 65.83L200.0 66.05L201.0 66.29L202.0 66.53L203.0 66.76L204.0 66.98L205.0 67.19L206.0 67.40L207.0 67.60L208.0 67.81L209.0 68.01L210.0 68.20L211.0 68.38L212.0 68.53L213.0 68.64L214.0 68.72L215.0 68.74L216.0 68.72L217.0 68.65L218.0 68.53L219.0 68.38L220.0 68.19L221.0 67.97L222.0 67.70L223.0 67.37L224.0 66.92L225.0 66.32L226.0 65.55L227.0 64.64L228.0 63.60L229.0 62.46L230.0 61.25L231.0 59.99L232.0 58.72L233.0 57.46L234.0 56.22L235.0 54.99L236.0 53.76L237.0 52.51L238.0 51.21L239.0 49.88L240.0 48.55L241.0 47.23L242.0 45.94L243.0 44.72L244.0 43.58L245.0 42.54L246.0 41.59L247.0 40.72L248.0 39.92L249.0 39.20L250.0 38.56L251.0 38.03L252.0 37.60L253.0 37.26L254.0 36.99L255.0 36.79L256.0 36.67L257.0 36.66L258.0 36.78L259.0 37.05L260.0 37.47L261.0 38.07L262.0 38.90L263.0 40.06L264.0 41.60L265.0 43.53L266.0 45.81L267.0 48.40L268.0 51.35L269.0 54.66L270.0 58.29L271.0 62.12L272.0 66.02L273.0 69.90L274.0 73.73L275.0 77.53L276.0 81.34L277.0 85.20L278.0 89.11L279.0 93.10L280.0 97.13L281.0 101.13L282.0 105.03L283.0 108.77L284.0 112.32L285.0 115.70L286.0 118.90L287.0 121.93L288.0 124.78L289.0 127.45L290.0 129.97L291.0 132.38L292.0 134.71L293.0 137.01L294.0 139.30L295.0 141.56L296.0 143.79L297.0 145.93L298.0 147.95L299.0 149.83L300.0 151.59L301.0 153.22L302.0 154.76L303.0 156.22L304.0 157.61L305.0 158.96L306.0 160.25L307.0 161.51L308.0 162.71L309.0 163.85L310.0 164.92L311.0 165.92L312.0 166.85L313.0 167.73L314.0 168.56L315.0 169.34L316.0 170.08L317.0 170.80L318.0 171.49L319.0 172.16L320.0 172.82L321.0 173.45L322.0 174.04L323.0 174.58L324.0 175.04L325.0 175.43L326.0 175.76L327.0 176.05L328.0 176.31L329.0 176.54L330.0 176.76L331.0 176.95L332.0 177.12L333.0 177.26L334.0 177.38L335.0 177.48L336.0 177.57L337.0 177.65L338.0 177.72L339.0 177.78L340.0 177.84L341.0 177.89L342.0 177.93L343.0 177.96L344.0 177.98L345.0 177.99" stroke="#1a9a12" stroke-width="2.80" fill="none" stroke-linejoin="round"/>

<path transform="scale(1,1.150)" d="M50.0 186.91L50.5 186.84L51.0 186.71L51.5 186.51L52.0 186.26L52.5 185.96L53.0 185.64L53.5 185.30L54.0 184.94L54.5 184.58L55.0 184.22L55.5 183.84L56.0 183.45L56.5 183.05L57.0 182.63L57.5 182.20L58.0 181.77L58.5 181.33L59.0 180.90L59.5 180.48L60.0 180.07L60.5 179.68L61.0 179.31L61.5 178.96L62.0 178.62L62.5 178.29L63.0 177.97L63.5 177.66L64.0 177.35L64.5 177.04L65.0 176.72L65.5 176.40L66.0 176.07L66.5 175.73L67.0 175.38L67.5 175.02L68.0 174.67L68.5 174.31L69.0 173.95L69.5 173.61L70.0 173.27L70.5 172.95L71.0 172.65L71.5 172.36L72.0 172.10L72.5 171.84L73.0 171.60L73.5 171.37L74.0 171.14L74.5 170.90L75.0 170.67L75.5 170.43L76.0 170.19L76.5 169.95L77.0 169.70L77.5 169.46L78.0 169.20L78.5 168.93L79.0 168.65L79.5 168.34L80.0 168.00L80.5 167.62L81.0 167.19L81.5 166.70L82.0 166.15L82.5 165.55L83.0 164.90L83.5 164.22L84.0 163.51L84.5 162.78L85.0 162.05L85.5 161.32L86.0 160.59L86.5 159.86L87.0 159.12L87.5 158.36L88.0 157.58L88.5 156.76L89.0 155.90L89.5 155.00L90.0 154.04L90.5 153.04L91.0 151.99L91.5 150.92L92.0 149.81L92.5 148.69L93.0 147.55L93.5 146.39L94.0 145.21L94.5 144.02L95.0 142.81L95.5 141.60L96.0 140.41L96.5 139.25L97.0 138.13L97.5 137.07L98.0 136.05L98.5 135.08L99.0 134.14L99.5 133.23L100.0 132.35L100.5 131.49L101.0 130.64L101.5 129.82L102.0 129.01L102.5 128.21L103.0 127.42L103.5 126.65L104.0 125.88L104.5 125.12L105.0 124.37L105.5 123.62L106.0 122.89L106.5 122.17L107.0 121.46L107.5 120.76L108.0 120.07L108.5 119.38L109.0 118.71L109.5 118.04L110.0 117.37L110.5 116.70L111.0 116.04L111.5 115.37L112.0 114.71L112.5 114.04L113.0 113.36L113.5 112.69L114.0 112.01L114.5 111.33L115.0 110.64L115.5 109.96L116.0 109.27L116.5 108.59L117.0 107.90L117.5 107.21L118.0 106.53L118.5 105.85L119.0 105.16L119.5 104.48L120.0 103.80L120.5 103.12L121.0 102.44L121.5 101.77L122.0 101.10L122.5 100.43L123.0 99.76L123.5 99.10L124.0 98.44L124.5 97.78L125.0 97.11L125.5 96.44L126.0 95.77L126.5 95.10L127.0 94.43L127.5 93.76L128.0 93.11L128.5 92.47L129.0 91.85L129.5 91.25L130.0 90.68L130.5 90.13L131.0 89.62L131.5 89.13L132.0 88.66L132.5 88.21L133.0 87.77L133.5 87.35L134.0 86.95L134.5 86.55L135.0 86.16L135.5 85.78L136.0 85.41L136.5 85.05L137.0 84.69L137.5 84.34L138.0 83.99L138.5 83.64L139.0 83.30L139.5 82.95L140.0 82.61L140.5 82.28L141.0 81.94L141.5 81.61L142.0 81.29L142.5 80.97L143.0 80.65L143.5 80.34L144.0 80.03L144.5 79.72L145.0 79.42L145.5 79.12L146.0 78.82L146.5 78.52L147.0 78.23L147.5 77.93L148.0 77.64L148.5 77.35L149.0 77.05L149.5 76.76L150.0 76.47L150.5 76.17L151.0 75.88L151.5 75.58L152.0 75.29L152.5 74.99L153.0 74.68L153.5 74.38L154.0 74.08L154.5 73.77L155.0 73.47L155.5 73.17L156.0 72.87L156.5 72.56L157.0 72.26L157.5 71.96L158.0 71.65L158.5 71.34L159.0 71.03L159.5 70.72L160.0 70.41L160.5 70.08L161.0 69.76L161.5 69.43L162.0 69.10L162.5 68.77L163.0 68.43L163.5 68.09L164.0 67.75L164.5 67.40L165.0 67.05L165.5 66.69L166.0 66.33L166.5 65.95L167.0 65.56L167.5 65.16L168.0 64.74L168.5 64.31L169.0 63.86L169.5 63.39L170.0 62.90L170.5 62.39L171.0 61.86L171.5 61.32L172.0 60.77L172.5 60.21L173.0 59.64L173.5 59.07L174.0 58.49L174.5 57.91L175.0 57.33L175.5 56.74L176.0 56.15L176.5 55.56L177.0 54.95L177.5 54.33L178.0 53.70L178.5 53.06L179.0 52.39L179.5 51.71L180.0 50.99L180.5 50.25L181.0 49.47L181.5 48.64L182.0 47.77L182.5 46.85L183.0 45.90L183.5 44.91L184.0 43.91L184.5 42.90L185.0 41.90L185.5 40.92L186.0 39.96L186.5 39.03L187.0 38.14L187.5 37.26L188.0 36.41L188.5 35.57L189.0 34.74L189.5 33.93L190.0 33.15L190.5 32.39L191.0 31.65L191.5 30.94L192.0 30.27L192.5 29.62L193.0 29.00L193.5 28.40L194.0 27.82L194.5 27.26L195.0 26.71L195.5 26.19L196.0 25.67L196.5 25.18L197.0 24.70L197.5 24.24L198.0 23.79L198.5 23.37L199.0 22.96L199.5 22.56L200.0 22.18L200.5 21.82L201.0 21.47L201.5 21.13L202.0 20.80L202.5 20.48L203.0 20.17L203.5 19.87L204.0 19.57L204.5 19.28L205.0 18.99L205.5 18.71L206.0 18.43L206.5 18.15L207.0 17.87L207.5 17.60L208.0 17.33L208.5 17.06L209.0 16.79L209.5 16.52L210.0 16.26L210.5 16.00L211.0 15.75L211.5 15.49L212.0 15.25L212.5 15.00L213.0 14.76L213.5 14.52L214.0 14.29L214.5 14.06L215.0 13.82L215.5 13.59L216.0 13.35L216.5 13.10L217.0 12.86L217.5 12.62L218.0 12.41L218.5 12.22L219.0 12.08L219.5 12.00L220.0 11.97L220.5 12.01L221.0 12.12L221.5 12.29L222.0 12.52L222.5 12.81L223.0 13.15L223.5 13.53L224.0 13.94L224.5 14.38L225.0 14.85L225.5 15.33L226.0 15.83L226.5 16.36L227.0 16.91L227.5 17.51L228.0 18.16L228.5 18.86L229.0 19.62L229.5 20.43L230.0 21.27L230.5 22.15L231.0 23.06L231.5 24.01L232.0 24.99L232.5 26.02L233.0 27.11L233.5 28.28L234.0 29.55L234.5 30.95L235.0 32.48L235.5 34.16L236.0 35.96L236.5 37.83L237.0 39.69L237.5 41.50L238.0 43.23L238.5 44.88L239.0 46.47L239.5 48.00L240.0 49.49L240.5 50.97L241.0 52.44L241.5 53.91L242.0 55.41L242.5 56.94L243.0 58.51L243.5 60.14L244.0 61.83L244.5 63.58L245.0 65.37L245.5 67.18L246.0 68.99L246.5 70.77L247.0 72.50L247.5 74.15L248.0 75.72L248.5 77.21L249.0 78.63L249.5 79.98L250.0 81.29L250.5 82.56L251.0 83.82L251.5 85.08L252.0 86.34L252.5 87.61L253.0 88.90L253.5 90.20L254.0 91.50L254.5 92.81L255.0 94.12L255.5 95.41L256.0 96.70L256.5 97.97L257.0 99.22L257.5 100.46L258.0 101.69L258.5 102.91L259.0 104.13L259.5 105.34L260.0 106.54L260.5 107.73L261.0 108.90L261.5 110.06L262.0 111.19L262.5 112.29L263.0 113.37L263.5 114.41L264.0 115.42L264.5 116.39L265.0 117.34L265.5 118.26L266.0 119.15L266.5 120.03L267.0 120.90L267.5 121.76L268.0 122.59L268.5 123.42L269.0 124.23L269.5 125.01L270.0 125.78L270.5 126.53L271.0 127.26L271.5 127.96L272.0 128.64L272.5 129.29L273.0 129.92L273.5 130.51L274.0 131.08L274.5 131.62L275.0 132.13L275.5 132.62L276.0 133.10L276.5 133.55L277.0 134.00L277.5 134.44L278.0 134.86L278.5 135.28L279.0 135.69L279.5 136.08L280.0 136.47L280.5 136.85L281.0 137.22L281.5 137.58L282.0 137.93L282.5 138.27L283.0 138.61L283.5 138.93L284.0 139.25L284.5 139.57L285.0 139.87L285.5 140.17L286.0 140.47L286.5 140.75L287.0 141.03L287.5 141.31L288.0 141.58L288.5 141.84L289.0 142.10L289.5 142.35L290.0 142.60L290.5 142.84L291.0 143.08L291.5 143.32L292.0 143.55L292.5 143.77L293.0 143.99L293.5 144.20L294.0 144.41L294.5 144.62L295.0 144.82L295.5 145.01L296.0 145.20L296.5 145.38L297.0 145.56L297.5 145.73L298.0 145.90L298.5 146.06L299.0 146.22L299.5 146.37L300.0 146.52L300.5 146.67L301.0 146.81L301.5 146.96L302.0 147.11L302.5 147.26L303.0 147.40L303.5 147.55L304.0 147.69L304.5 147.84L305.0 147.97L305.5 148.11L306.0 148.24L306.5 148.36L307.0 148.48L307.5 148.59L308.0 148.69L308.5 148.78L309.0 148.86L309.5 148.93L310.0 148.99L310.5 149.04L311.0 149.07L311.5 149.09L312.0 149.10L312.5 149.10L313.0 149.08L313.5 149.04L314.0 149.00L314.5 148.95L315.0 148.89L315.5 148.82L316.0 148.76L316.5 148.68L317.0 148.61L317.5 148.54L318.0 148.47L318.5 148.41L319.0 148.34L319.5 148.29L320.0 148.23L320.5 148.18L321.0 148.13L321.5 148.08L322.0 148.04L322.5 147.99L323.0 147.95L323.5 147.91L324.0 147.89L324.5 147.86L325.0 147.85L325.5 147.86L326.0 147.87L326.5 147.91L327.0 147.95L327.5 148.02L328.0 148.09L328.5 148.18L329.0 148.27L329.5 148.37L330.0 148.48L330.5 148.60L331.0 148.72L331.5 148.86L332.0 149.02L332.5 149.19L333.0 149.38L333.5 149.58L334.0 149.80L334.5 150.03L335.0 150.27L335.5 150.51L336.0 150.75L336.5 150.99L337.0 151.23L337.5 151.46L338.0 151.69L338.5 151.91L339.0 152.13L339.5 152.35L340.0 152.57L340.5 152.79L341.0 153.01L341.5 153.23L342.0 153.45L342.5 153.67L343.0 153.89L343.5 154.10L344.0 154.30L344.5 154.47L345.0 154.61" stroke="#757575" stroke-width="1.65" fill="none" stroke-dasharray="0.01 4.2" stroke-linecap="round"/>

</g>
<g clip-path="url(#cb)">
<path d="M390.0 52.87L391.0 53.48L392.0 54.25L393.0 55.05L394.0 55.77L395.0 56.39L396.0 56.92L397.0 57.38L398.0 57.79L399.0 58.16L400.0 58.46L401.0 58.69L402.0 58.84L403.0 58.91L404.0 58.91L405.0 58.84L406.0 58.73L407.0 58.58L408.0 58.39L409.0 58.18L410.0 57.91L411.0 57.58L412.0 57.17L413.0 56.67L414.0 56.13L415.0 55.56L416.0 55.02L417.0 54.51L418.0 54.05L419.0 53.63L420.0 53.27L421.0 52.96L422.0 52.75L423.0 52.66L424.0 52.69L425.0 52.84L426.0 53.06L427.0 53.35L428.0 53.67L429.0 54.02L430.0 54.40L431.0 54.81L432.0 55.26L433.0 55.76L434.0 56.32L435.0 56.93L436.0 57.63L437.0 58.42L438.0 59.32L439.0 60.32L440.0 61.36L441.0 62.42L442.0 63.48L443.0 64.53L444.0 65.57L445.0 66.59L446.0 67.59L447.0 68.54L448.0 69.45L449.0 70.32L450.0 71.16L451.0 71.95L452.0 72.69L453.0 73.35L454.0 73.93L455.0 74.42L456.0 74.84L457.0 75.20L458.0 75.53L459.0 75.80L460.0 76.01L461.0 76.16L462.0 76.24L463.0 76.26L464.0 76.26L465.0 76.23L466.0 76.20L467.0 76.15L468.0 76.10L469.0 76.05L470.0 75.99L471.0 75.92L472.0 75.85L473.0 75.76L474.0 75.66L475.0 75.56L476.0 75.45L477.0 75.34L478.0 75.22L479.0 75.11L480.0 74.99L481.0 74.87L482.0 74.74L483.0 74.60L484.0 74.46L485.0 74.33L486.0 74.22L487.0 74.13L488.0 74.09L489.0 74.10L490.0 74.21L491.0 74.42L492.0 74.74L493.0 75.16L494.0 75.67L495.0 76.25L496.0 76.91L497.0 77.69L498.0 78.62L499.0 79.75L500.0 81.09L501.0 82.61L502.0 84.31L503.0 86.19L504.0 88.28L505.0 90.60L506.0 93.12L507.0 95.83L508.0 98.72L509.0 101.80L510.0 105.08L511.0 108.55L512.0 112.20L513.0 116.02L514.0 119.97L515.0 123.98L516.0 127.96L517.0 131.86L518.0 135.62L519.0 139.21L520.0 142.56L521.0 145.62L522.0 148.32L523.0 150.63L524.0 152.50L525.0 153.92L526.0 154.88L527.0 155.36L528.0 155.34L529.0 154.85L530.0 153.89L531.0 152.38L532.0 150.30L533.0 147.74L534.0 144.84L535.0 141.70L536.0 138.40L537.0 135.01L538.0 131.63L539.0 128.33L540.0 125.15L541.0 122.07L542.0 119.09L543.0 116.18L544.0 113.35L545.0 110.61L546.0 107.99L547.0 105.51L548.0 103.18L549.0 101.01L550.0 98.96L551.0 97.02L552.0 95.15L553.0 93.31L554.0 91.50L555.0 89.69L556.0 87.90L557.0 86.13L558.0 84.39L559.0 82.70L560.0 81.04L561.0 79.43L562.0 77.87L563.0 76.36L564.0 74.93L565.0 73.58L566.0 72.29L567.0 71.05L568.0 69.87L569.0 68.75L570.0 67.70L571.0 66.73L572.0 65.86L573.0 65.07L574.0 64.34L575.0 63.67L576.0 63.05L577.0 62.51L578.0 62.09L579.0 61.80L580.0 61.67L581.0 61.68L582.0 61.81L583.0 62.03L584.0 62.33L585.0 62.70L586.0 63.11L587.0 63.56L588.0 64.03L589.0 64.53L590.0 65.07L591.0 65.67L592.0 66.35L593.0 67.11L594.0 67.94L595.0 68.81L596.0 69.70L597.0 70.58L598.0 71.42L599.0 72.22L600.0 72.97L601.0 73.69L602.0 74.41L603.0 75.13L604.0 75.83L605.0 76.50L606.0 77.12L607.0 77.66L608.0 78.10L609.0 78.41L610.0 78.59L611.0 78.62L612.0 78.51L613.0 78.27L614.0 77.91L615.0 77.47L616.0 76.95L617.0 76.38L618.0 75.76L619.0 75.12L620.0 74.43L621.0 73.67L622.0 72.84L623.0 71.90L624.0 70.88L625.0 69.80L626.0 68.66L627.0 67.50L628.0 66.33L629.0 65.14L630.0 63.94L631.0 62.69L632.0 61.38L633.0 60.04L634.0 58.72L635.0 57.47L636.0 56.36L637.0 55.43L638.0 54.69L639.0 54.10L640.0 53.61L641.0 53.19L642.0 52.82L643.0 52.53L644.0 52.30L645.0 52.15L646.0 52.06L647.0 52.04L648.0 52.05L649.0 52.08L650.0 52.12L651.0 52.18L652.0 52.25L653.0 52.36L654.0 52.53L655.0 52.75L656.0 53.04L657.0 53.38L658.0 53.74L659.0 54.12L660.0 54.50L661.0 54.88L662.0 55.26L663.0 55.66L664.0 56.07L665.0 56.48L666.0 56.90L667.0 57.31L668.0 57.71L669.0 58.11L670.0 58.49L671.0 58.86L672.0 59.22L673.0 59.58L674.0 59.93L675.0 60.28L676.0 60.62L677.0 60.96L678.0 61.30L679.0 61.63L680.0 61.95L681.0 62.27L682.0 62.58L683.0 62.88L684.0 63.14L685.0 63.33" stroke="#220e9e" stroke-width="2.00" fill="none" stroke-linejoin="round"/>
<path d="M390.0 51.58L391.0 52.32L392.0 53.29L393.0 54.32L394.0 55.32L395.0 56.24L396.0 57.09L397.0 57.90L398.0 58.66L399.0 59.37L400.0 60.02L401.0 60.57L402.0 61.04L403.0 61.39L404.0 61.65L405.0 61.81L406.0 61.90L407.0 61.90L408.0 61.81L409.0 61.62L410.0 61.32L411.0 60.89L412.0 60.34L413.0 59.70L414.0 58.97L415.0 58.20L416.0 57.43L417.0 56.68L418.0 55.99L419.0 55.33L420.0 54.72L421.0 54.18L422.0 53.74L423.0 53.44L424.0 53.27L425.0 53.23L426.0 53.28L427.0 53.41L428.0 53.59L429.0 53.82L430.0 54.08L431.0 54.40L432.0 54.77L433.0 55.20L434.0 55.69L435.0 56.26L436.0 56.92L437.0 57.69L438.0 58.57L439.0 59.54L440.0 60.57L441.0 61.63L442.0 62.68L443.0 63.74L444.0 64.80L445.0 65.85L446.0 66.88L447.0 67.87L448.0 68.82L449.0 69.72L450.0 70.60L451.0 71.43L452.0 72.22L453.0 72.94L454.0 73.58L455.0 74.13L456.0 74.61L457.0 75.04L458.0 75.42L459.0 75.75L460.0 76.00L461.0 76.19L462.0 76.30L463.0 76.37L464.0 76.40L465.0 76.41L466.0 76.41L467.0 76.40L468.0 76.38L469.0 76.35L470.0 76.31L471.0 76.26L472.0 76.20L473.0 76.13L474.0 76.05L475.0 75.96L476.0 75.87L477.0 75.77L478.0 75.67L479.0 75.57L480.0 75.46L481.0 75.34L482.0 75.22L483.0 75.08L484.0 74.95L485.0 74.82L486.0 74.70L487.0 74.61L488.0 74.56L489.0 74.57L490.0 74.65L491.0 74.84L492.0 75.13L493.0 75.51L494.0 75.97L495.0 76.50L496.0 77.12L497.0 77.83L498.0 78.71L499.0 79.77L500.0 81.04L501.0 82.48L502.0 84.09L503.0 85.88L504.0 87.87L505.0 90.07L506.0 92.47L507.0 95.04L508.0 97.79L509.0 100.73L510.0 103.86L511.0 107.18L512.0 110.67L513.0 114.32L514.0 118.09L515.0 121.91L516.0 125.71L517.0 129.42L518.0 133.02L519.0 136.45L520.0 139.67L521.0 142.60L522.0 145.21L523.0 147.43L524.0 149.24L525.0 150.62L526.0 151.56L527.0 152.02L528.0 152.00L529.0 151.53L530.0 150.60L531.0 149.15L532.0 147.15L533.0 144.68L534.0 141.87L535.0 138.83L536.0 135.63L537.0 132.33L538.0 129.02L539.0 125.78L540.0 122.64L541.0 119.60L542.0 116.64L543.0 113.75L544.0 110.92L545.0 108.19L546.0 105.57L547.0 103.09L548.0 100.75L549.0 98.56L550.0 96.49L551.0 94.53L552.0 92.64L553.0 90.80L554.0 88.98L555.0 87.19L556.0 85.42L557.0 83.69L558.0 82.00L559.0 80.35L560.0 78.75L561.0 77.19L562.0 75.69L563.0 74.25L564.0 72.88L565.0 71.59L566.0 70.37L567.0 69.20L568.0 68.09L569.0 67.03L570.0 66.04L571.0 65.13L572.0 64.31L573.0 63.58L574.0 62.92L575.0 62.32L576.0 61.75L577.0 61.27L578.0 60.91L579.0 60.70L580.0 60.64L581.0 60.73L582.0 60.96L583.0 61.30L584.0 61.74L585.0 62.26L586.0 62.85L587.0 63.51L588.0 64.22L589.0 65.01L590.0 65.88L591.0 66.86L592.0 67.96L593.0 69.18L594.0 70.49L595.0 71.86L596.0 73.29L597.0 74.73L598.0 76.19L599.0 77.64L600.0 79.08L601.0 80.50L602.0 81.91L603.0 83.29L604.0 84.63L605.0 85.92L606.0 87.14L607.0 88.25L608.0 89.24L609.0 90.06L610.0 90.69L611.0 91.13L612.0 91.39L613.0 91.15L614.0 90.72L615.0 90.13L616.0 89.38L617.0 88.50L618.0 87.52L619.0 86.44L620.0 85.24L621.0 83.91L622.0 82.45L623.0 80.87L624.0 79.18L625.0 77.39L626.0 75.52L627.0 73.61L628.0 71.69L629.0 69.80L630.0 67.94L631.0 66.11L632.0 64.27L633.0 62.44L634.0 60.65L635.0 58.96L636.0 57.41L637.0 56.05L638.0 54.89L639.0 53.90L640.0 53.04L641.0 52.28L642.0 51.62L643.0 51.06L644.0 50.60L645.0 50.27L646.0 50.05L647.0 49.92L648.0 49.86L649.0 49.84L650.0 49.86L651.0 49.91L652.0 50.00L653.0 50.09L654.0 50.25L655.0 50.48L656.0 50.77L657.0 51.12L658.0 51.50L659.0 51.89L660.0 52.29L661.0 52.69L662.0 53.11L663.0 53.54L664.0 53.99L665.0 54.44L666.0 54.90L667.0 55.36L668.0 55.81L669.0 56.26L670.0 56.70L671.0 57.13L672.0 57.55L673.0 57.97L674.0 58.39L675.0 58.81L676.0 59.22L677.0 59.63L678.0 60.04L679.0 60.44L680.0 60.83L681.0 61.23L682.0 61.61L683.0 61.97L684.0 62.29L685.0 62.53" stroke="#22129a" stroke-width="1.80" fill="none" stroke-linejoin="round"/>
<path d="M390.0 49.84L391.0 50.76L392.0 51.98L393.0 53.34L394.0 54.70L395.0 56.03L396.0 57.33L397.0 58.60L398.0 59.83L399.0 61.01L400.0 62.10L401.0 63.10L402.0 63.98L403.0 64.73L404.0 65.33L405.0 65.80L406.0 66.13L407.0 66.32L408.0 66.34L409.0 66.17L410.0 65.79L411.0 65.22L412.0 64.48L413.0 63.62L414.0 62.64L415.0 61.60L416.0 60.52L417.0 59.46L418.0 58.44L419.0 57.48L420.0 56.56L421.0 55.71L422.0 54.98L423.0 54.40L424.0 53.98L425.0 53.71L426.0 53.55L427.0 53.49L428.0 53.49L429.0 53.57L430.0 53.71L431.0 53.92L432.0 54.19L433.0 54.54L434.0 54.96L435.0 55.47L436.0 56.09L437.0 56.83L438.0 57.70L439.0 58.65L440.0 59.67L441.0 60.71L442.0 61.78L443.0 62.85L444.0 63.93L445.0 65.01L446.0 66.08L447.0 67.12L448.0 68.11L449.0 69.07L450.0 69.99L451.0 70.87L452.0 71.71L453.0 72.49L454.0 73.19L455.0 73.82L456.0 74.38L457.0 74.87L458.0 75.31L459.0 75.69L460.0 75.99L461.0 76.22L462.0 76.37L463.0 76.48L464.0 76.55L465.0 76.60L466.0 76.63L467.0 76.65L468.0 76.65L469.0 76.64L470.0 76.63L471.0 76.60L472.0 76.56L473.0 76.50L474.0 76.44L475.0 76.37L476.0 76.29L477.0 76.21L478.0 76.12L479.0 76.03L480.0 75.93L481.0 75.82L482.0 75.70L483.0 75.57L484.0 75.43L485.0 75.31L486.0 75.19L487.0 75.09L488.0 75.04L489.0 75.03L490.0 75.10L491.0 75.27L492.0 75.52L493.0 75.86L494.0 76.28L495.0 76.76L496.0 77.32L497.0 77.98L498.0 78.80L499.0 79.80L500.0 80.99L501.0 82.35L502.0 83.88L503.0 85.57L504.0 87.45L505.0 89.53L506.0 91.79L507.0 94.23L508.0 96.84L509.0 99.63L510.0 102.60L511.0 105.76L512.0 109.09L513.0 112.56L514.0 116.14L515.0 119.77L516.0 123.38L517.0 126.91L518.0 130.32L519.0 133.59L520.0 136.67L521.0 139.48L522.0 141.97L523.0 144.11L524.0 145.85L525.0 147.19L526.0 148.09L527.0 148.53L528.0 148.52L529.0 148.07L530.0 147.18L531.0 145.79L532.0 143.87L533.0 141.51L534.0 138.80L535.0 135.86L536.0 132.76L537.0 129.55L538.0 126.32L539.0 123.14L540.0 120.06L541.0 117.06L542.0 114.12L543.0 111.24L544.0 108.43L545.0 105.70L546.0 103.08L547.0 100.59L548.0 98.25L549.0 96.05L550.0 93.97L551.0 91.99L552.0 90.08L553.0 88.23L554.0 86.41L555.0 84.64L556.0 82.90L557.0 81.21L558.0 79.57L559.0 77.97L560.0 76.43L561.0 74.93L562.0 73.48L563.0 72.10L564.0 70.81L565.0 69.59L566.0 68.44L567.0 67.34L568.0 66.29L569.0 65.30L570.0 64.37L571.0 63.53L572.0 62.77L573.0 62.10L574.0 61.50L575.0 60.97L576.0 60.47L577.0 60.06L578.0 59.78L579.0 59.64L580.0 59.67L581.0 59.84L582.0 60.17L583.0 60.63L584.0 61.20L585.0 61.87L586.0 62.63L587.0 63.47L588.0 64.40L589.0 65.42L590.0 66.58L591.0 67.88L592.0 69.33L593.0 70.93L594.0 72.63L595.0 74.42L596.0 76.27L597.0 78.17L598.0 80.11L599.0 82.08L600.0 84.05L601.0 86.00L602.0 87.93L603.0 89.81L604.0 91.62L605.0 93.36L606.0 95.01L607.0 96.54L608.0 97.91L609.0 99.07L610.0 100.01L611.0 100.72L612.0 101.22L613.0 101.01L614.0 100.57L615.0 99.89L616.0 99.00L617.0 97.93L618.0 96.69L619.0 95.30L620.0 93.73L621.0 91.99L622.0 90.07L623.0 88.01L624.0 85.81L625.0 83.49L626.0 81.05L627.0 78.55L628.0 76.05L629.0 73.61L630.0 71.24L631.0 68.93L632.0 66.67L633.0 64.44L634.0 62.28L635.0 60.22L636.0 58.31L637.0 56.59L638.0 55.07L639.0 53.73L640.0 52.54L641.0 51.49L642.0 50.55L643.0 49.75L644.0 49.08L645.0 48.57L646.0 48.21L647.0 47.98L648.0 47.83L649.0 47.75L650.0 47.72L651.0 47.74L652.0 47.83L653.0 47.91L654.0 48.06L655.0 48.29L656.0 48.59L657.0 48.94L658.0 49.33L659.0 49.73L660.0 50.15L661.0 50.59L662.0 51.04L663.0 51.50L664.0 51.98L665.0 52.48L666.0 52.97L667.0 53.48L668.0 53.98L669.0 54.48L670.0 54.97L671.0 55.46L672.0 55.94L673.0 56.43L674.0 56.91L675.0 57.39L676.0 57.87L677.0 58.35L678.0 58.82L679.0 59.29L680.0 59.76L681.0 60.22L682.0 60.67L683.0 61.10L684.0 61.48L685.0 61.76" stroke="#1f2290" stroke-width="1.80" fill="none" stroke-linejoin="round"/>
<path d="M390.0 47.48L391.0 48.65L392.0 50.22L393.0 52.01L394.0 53.87L395.0 55.75L396.0 57.64L397.0 59.54L398.0 61.41L399.0 63.22L400.0 64.94L401.0 66.54L402.0 67.98L403.0 69.25L404.0 70.33L405.0 71.21L406.0 71.86L407.0 72.29L408.0 72.43L409.0 72.26L410.0 71.76L411.0 70.97L412.0 69.97L413.0 68.79L414.0 67.47L415.0 66.05L416.0 64.56L417.0 63.07L418.0 61.63L419.0 60.24L420.0 58.92L421.0 57.67L422.0 56.56L423.0 55.63L424.0 54.89L425.0 54.32L426.0 53.89L427.0 53.58L428.0 53.37L429.0 53.26L430.0 53.24L431.0 53.32L432.0 53.48L433.0 53.73L434.0 54.07L435.0 54.52L436.0 55.10L437.0 55.81L438.0 56.65L439.0 57.59L440.0 58.59L441.0 59.64L442.0 60.71L443.0 61.81L444.0 62.92L445.0 64.05L446.0 65.17L447.0 66.26L448.0 67.31L449.0 68.32L450.0 69.29L451.0 70.24L452.0 71.14L453.0 71.99L454.0 72.77L455.0 73.48L456.0 74.12L457.0 74.69L458.0 75.19L459.0 75.63L460.0 75.98L461.0 76.25L462.0 76.45L463.0 76.59L464.0 76.70L465.0 76.79L466.0 76.85L467.0 76.90L468.0 76.93L469.0 76.94L470.0 76.95L471.0 76.93L472.0 76.91L473.0 76.88L474.0 76.83L475.0 76.78L476.0 76.71L477.0 76.64L478.0 76.57L479.0 76.49L480.0 76.40L481.0 76.29L482.0 76.18L483.0 76.05L484.0 75.92L485.0 75.79L486.0 75.67L487.0 75.57L488.0 75.51L489.0 75.49L490.0 75.55L491.0 75.68L492.0 75.91L493.0 76.21L494.0 76.58L495.0 77.01L496.0 77.52L497.0 78.13L498.0 78.88L499.0 79.82L500.0 80.94L501.0 82.23L502.0 83.67L503.0 85.26L504.0 87.03L505.0 89.00L506.0 91.14L507.0 93.45L508.0 95.91L509.0 98.56L510.0 101.38L511.0 104.39L512.0 107.56L513.0 110.86L514.0 114.26L515.0 117.70L516.0 121.12L517.0 124.47L518.0 127.72L519.0 130.84L520.0 133.77L521.0 136.46L522.0 138.85L523.0 140.91L524.0 142.59L525.0 143.89L526.0 144.76L527.0 145.19L528.0 145.09L529.0 144.57L530.0 143.63L531.0 142.21L532.0 140.30L533.0 137.95L534.0 135.27L535.0 132.37L536.0 129.30L537.0 126.12L538.0 122.91L539.0 119.74L540.0 116.65L541.0 113.62L542.0 110.65L543.0 107.72L544.0 104.84L545.0 102.04L546.0 99.35L547.0 96.78L548.0 94.36L549.0 92.06L550.0 89.87L551.0 87.78L552.0 85.76L553.0 83.81L554.0 81.92L555.0 80.09L556.0 78.33L557.0 76.63L558.0 74.99L559.0 73.41L560.0 71.89L561.0 70.42L562.0 69.02L563.0 67.70L564.0 66.47L565.0 65.32L566.0 64.25L567.0 63.24L568.0 62.28L569.0 61.37L570.0 60.53L571.0 59.76L572.0 59.08L573.0 58.49L574.0 58.00L575.0 57.60L576.0 57.33L577.0 57.16L578.0 57.12L579.0 57.23L580.0 57.48L581.0 57.90L582.0 58.48L583.0 59.22L584.0 60.09L585.0 61.08L586.0 62.18L587.0 63.39L588.0 64.71L589.0 66.18L590.0 67.82L591.0 69.65L592.0 71.67L593.0 73.83L594.0 76.11L595.0 78.47L596.0 80.89L597.0 83.36L598.0 85.89L599.0 88.44L600.0 91.00L601.0 93.52L602.0 95.95L603.0 98.28L604.0 100.48L605.0 102.55L606.0 104.49L607.0 106.26L608.0 107.81L609.0 109.09L610.0 110.09L611.0 110.82L612.0 111.29L613.0 111.21L614.0 110.83L615.0 110.16L616.0 109.21L617.0 108.01L618.0 106.60L619.0 104.96L620.0 103.08L621.0 100.96L622.0 98.62L623.0 96.09L624.0 93.39L625.0 90.52L626.0 87.50L627.0 84.38L628.0 81.24L629.0 78.18L630.0 75.23L631.0 72.40L632.0 69.64L633.0 66.95L634.0 64.34L635.0 61.84L636.0 59.48L637.0 57.29L638.0 55.30L639.0 53.50L640.0 51.87L641.0 50.40L642.0 49.08L643.0 47.91L644.0 46.92L645.0 46.13L646.0 45.54L647.0 45.11L648.0 44.80L649.0 44.58L650.0 44.44L651.0 44.38L652.0 44.42L653.0 44.46L654.0 44.60L655.0 44.84L656.0 45.14L657.0 45.51L658.0 45.91L659.0 46.34L660.0 46.80L661.0 47.27L662.0 47.77L663.0 48.29L664.0 48.83L665.0 49.38L666.0 49.94L667.0 50.52L668.0 51.10L669.0 51.68L670.0 52.26L671.0 52.83L672.0 53.41L673.0 53.99L674.0 54.58L675.0 55.16L676.0 55.74L677.0 56.32L678.0 56.91L679.0 57.49L680.0 58.06L681.0 58.63L682.0 59.19L683.0 59.73L684.0 60.20L685.0 60.55" stroke="#1c4078" stroke-width="1.70" fill="none" stroke-linejoin="round"/>
<path d="M390.0 45.09L391.0 46.50L392.0 48.43L393.0 50.65L394.0 53.02L395.0 55.47L396.0 57.97L397.0 60.50L398.0 63.02L399.0 65.47L400.0 67.82L401.0 70.02L402.0 72.04L403.0 73.85L404.0 75.40L405.0 76.70L406.0 77.68L407.0 78.35L408.0 78.63L409.0 78.46L410.0 77.84L411.0 76.85L412.0 75.58L413.0 74.09L414.0 72.43L415.0 70.61L416.0 68.70L417.0 66.79L418.0 64.91L419.0 63.10L420.0 61.35L421.0 59.70L422.0 58.19L423.0 56.90L424.0 55.82L425.0 54.95L426.0 54.24L427.0 53.67L428.0 53.24L429.0 52.93L430.0 52.75L431.0 52.69L432.0 52.73L433.0 52.87L434.0 53.13L435.0 53.51L436.0 54.05L437.0 54.73L438.0 55.55L439.0 56.47L440.0 57.46L441.0 58.50L442.0 59.58L443.0 60.70L444.0 61.85L445.0 63.02L446.0 64.19L447.0 65.33L448.0 66.44L449.0 67.51L450.0 68.55L451.0 69.56L452.0 70.53L453.0 71.45L454.0 72.32L455.0 73.11L456.0 73.83L457.0 74.49L458.0 75.06L459.0 75.56L460.0 75.96L461.0 76.28L462.0 76.53L463.0 76.72L464.0 76.87L465.0 77.00L466.0 77.10L467.0 77.18L468.0 77.24L469.0 77.28L470.0 77.30L471.0 77.31L472.0 77.31L473.0 77.29L474.0 77.27L475.0 77.23L476.0 77.18L477.0 77.13L478.0 77.07L479.0 76.99L480.0 76.91L481.0 76.82L482.0 76.71L483.0 76.58L484.0 76.45L485.0 76.32L486.0 76.20L487.0 76.09L488.0 76.02L489.0 75.99L490.0 76.03L491.0 76.14L492.0 76.33L493.0 76.58L494.0 76.91L495.0 77.29L496.0 77.74L497.0 78.28L498.0 78.98L499.0 79.84L500.0 80.89L501.0 82.09L502.0 83.44L503.0 84.94L504.0 86.60L505.0 88.44L506.0 90.45L507.0 92.62L508.0 94.94L509.0 97.44L510.0 100.11L511.0 102.96L512.0 105.97L513.0 109.10L514.0 112.32L515.0 115.58L516.0 118.81L517.0 121.98L518.0 125.06L519.0 128.02L520.0 130.82L521.0 133.40L522.0 135.70L523.0 137.68L524.0 139.31L525.0 140.57L526.0 141.43L527.0 141.85L528.0 141.74L529.0 141.23L530.0 140.31L531.0 138.94L532.0 137.10L533.0 134.83L534.0 132.25L535.0 129.44L536.0 126.45L537.0 123.35L538.0 120.21L539.0 117.10L540.0 114.04L541.0 111.04L542.0 108.09L543.0 105.16L544.0 102.29L545.0 99.48L546.0 96.78L547.0 94.20L548.0 91.76L549.0 89.44L550.0 87.23L551.0 85.10L552.0 83.06L553.0 81.08L554.0 79.18L555.0 77.36L556.0 75.62L557.0 73.96L558.0 72.36L559.0 70.82L560.0 69.35L561.0 67.93L562.0 66.59L563.0 65.33L564.0 64.16L565.0 63.09L566.0 62.08L567.0 61.14L568.0 60.25L569.0 59.41L570.0 58.63L571.0 57.92L572.0 57.30L573.0 56.77L574.0 56.35L575.0 56.03L576.0 55.84L577.0 55.76L578.0 55.82L579.0 56.02L580.0 56.37L581.0 56.90L582.0 57.59L583.0 58.46L584.0 59.48L585.0 60.65L586.0 61.93L587.0 63.35L588.0 64.90L589.0 66.63L590.0 68.58L591.0 70.75L592.0 73.14L593.0 75.71L594.0 78.41L595.0 81.19L596.0 84.05L597.0 86.99L598.0 90.01L599.0 93.09L600.0 96.18L601.0 99.23L602.0 102.19L603.0 105.01L604.0 107.67L605.0 110.17L606.0 112.52L607.0 114.68L608.0 116.59L609.0 118.20L610.0 119.48L611.0 120.45L612.0 121.12L613.0 121.17L614.0 120.87L615.0 120.20L616.0 119.20L617.0 117.89L618.0 116.31L619.0 114.44L620.0 112.26L621.0 109.77L622.0 107.01L623.0 104.03L624.0 100.85L625.0 97.45L626.0 93.85L627.0 90.12L628.0 86.36L629.0 82.69L630.0 79.18L631.0 75.82L632.0 72.58L633.0 69.43L634.0 66.37L635.0 63.43L636.0 60.63L637.0 57.99L638.0 55.53L639.0 53.27L640.0 51.20L641.0 49.32L642.0 47.61L643.0 46.08L644.0 44.77L645.0 43.70L646.0 42.87L647.0 42.25L648.0 41.78L649.0 41.42L650.0 41.17L651.0 41.02L652.0 41.00L653.0 41.02L654.0 41.15L655.0 41.38L656.0 41.70L657.0 42.08L658.0 42.50L659.0 42.96L660.0 43.44L661.0 43.96L662.0 44.50L663.0 45.07L664.0 45.67L665.0 46.28L666.0 46.91L667.0 47.56L668.0 48.21L669.0 48.88L670.0 49.54L671.0 50.21L672.0 50.88L673.0 51.56L674.0 52.24L675.0 52.93L676.0 53.61L677.0 54.30L678.0 54.99L679.0 55.68L680.0 56.36L681.0 57.04L682.0 57.71L683.0 58.35L684.0 58.92L685.0 59.34" stroke="#1a5068" stroke-width="1.70" fill="none" stroke-linejoin="round"/>
<path d="M390.0 44.01L391.0 45.53L392.0 47.62L393.0 50.04L394.0 52.64L395.0 55.34L396.0 58.11L397.0 60.93L398.0 63.75L399.0 66.49L400.0 69.12L401.0 71.59L402.0 73.88L403.0 75.92L404.0 77.69L405.0 79.18L406.0 80.37L407.0 81.20L408.0 81.60L409.0 81.49L410.0 80.88L411.0 79.84L412.0 78.48L413.0 76.89L414.0 75.09L415.0 73.11L416.0 71.02L417.0 68.90L418.0 66.81L419.0 64.78L420.0 62.81L421.0 60.93L422.0 59.21L423.0 57.70L424.0 56.42L425.0 55.36L426.0 54.48L427.0 53.74L428.0 53.15L429.0 52.70L430.0 52.41L431.0 52.24L432.0 52.18L433.0 52.24L434.0 52.41L435.0 52.74L436.0 53.22L437.0 53.87L438.0 54.65L439.0 55.54L440.0 56.51L441.0 57.53L442.0 58.60L443.0 59.72L444.0 60.89L445.0 62.08L446.0 63.29L447.0 64.47L448.0 65.62L449.0 66.74L450.0 67.82L451.0 68.87L452.0 69.90L453.0 70.90L454.0 71.84L455.0 72.72L456.0 73.53L457.0 74.27L458.0 74.92L459.0 75.48L460.0 75.95L461.0 76.32L462.0 76.62L463.0 76.87L464.0 77.08L465.0 77.26L466.0 77.41L467.0 77.54L468.0 77.64L469.0 77.72L470.0 77.78L471.0 77.82L472.0 77.84L473.0 77.85L474.0 77.85L475.0 77.84L476.0 77.82L477.0 77.79L478.0 77.75L479.0 77.69L480.0 77.63L481.0 77.54L482.0 77.44L483.0 77.32L484.0 77.20L485.0 77.07L486.0 76.94L487.0 76.83L488.0 76.75L489.0 76.71L490.0 76.72L491.0 76.79L492.0 76.93L493.0 77.13L494.0 77.38L495.0 77.68L496.0 78.05L497.0 78.51L498.0 79.11L499.0 79.88L500.0 80.81L501.0 81.89L502.0 83.11L503.0 84.45L504.0 85.94L505.0 87.59L506.0 89.40L507.0 91.35L508.0 93.45L509.0 95.71L510.0 98.14L511.0 100.74L512.0 103.48L513.0 106.33L514.0 109.25L515.0 112.20L516.0 115.12L517.0 117.99L518.0 120.79L519.0 123.49L520.0 126.05L521.0 128.42L522.0 130.54L523.0 132.38L524.0 133.90L525.0 135.08L526.0 135.88L527.0 136.27L528.0 136.18L529.0 135.72L530.0 134.88L531.0 133.62L532.0 131.93L533.0 129.83L534.0 127.43L535.0 124.79L536.0 121.98L537.0 119.03L538.0 116.03L539.0 113.03L540.0 110.06L541.0 107.13L542.0 104.23L543.0 101.35L544.0 98.50L545.0 95.71L546.0 93.03L547.0 90.46L548.0 88.02L549.0 85.69L550.0 83.47L551.0 81.33L552.0 79.28L553.0 77.30L554.0 75.42L555.0 73.64L556.0 71.96L557.0 70.37L558.0 68.86L559.0 67.41L560.0 66.02L561.0 64.70L562.0 63.46L563.0 62.31L564.0 61.25L565.0 60.28L566.0 59.39L567.0 58.56L568.0 57.77L569.0 57.03L570.0 56.35L571.0 55.74L572.0 55.21L573.0 54.77L574.0 54.44L575.0 54.23L576.0 54.13L577.0 54.16L578.0 54.32L579.0 54.63L580.0 55.10L581.0 55.74L582.0 56.57L583.0 57.59L584.0 58.78L585.0 60.14L586.0 61.64L587.0 63.30L588.0 65.12L589.0 67.16L590.0 69.46L591.0 72.04L592.0 74.87L593.0 77.91L594.0 81.09L595.0 84.37L596.0 87.75L597.0 91.24L598.0 94.85L599.0 98.54L600.0 102.27L601.0 105.96L602.0 109.54L603.0 112.94L604.0 116.16L605.0 119.19L606.0 122.03L607.0 124.67L608.0 127.02L609.0 129.01L610.0 130.63L611.0 131.90L612.0 132.83L613.0 132.96L614.0 132.69L615.0 131.97L616.0 130.84L617.0 129.34L618.0 127.50L619.0 125.30L620.0 122.72L621.0 119.76L622.0 116.48L623.0 112.94L624.0 109.16L625.0 105.13L626.0 100.85L627.0 96.41L628.0 91.94L629.0 87.59L630.0 83.43L631.0 79.49L632.0 75.71L633.0 72.05L634.0 68.52L635.0 65.11L636.0 61.83L637.0 58.71L638.0 55.77L639.0 53.04L640.0 50.52L641.0 48.22L642.0 46.13L643.0 44.26L644.0 42.63L645.0 41.30L646.0 40.27L647.0 39.48L648.0 38.86L649.0 38.39L650.0 38.04L651.0 37.84L652.0 37.78L653.0 37.77L654.0 37.90L655.0 38.14L656.0 38.46L657.0 38.85L658.0 39.29L659.0 39.77L660.0 40.28L661.0 40.83L662.0 41.43L663.0 42.05L664.0 42.70L665.0 43.37L666.0 44.06L667.0 44.77L668.0 45.50L669.0 46.24L670.0 46.99L671.0 47.74L672.0 48.50L673.0 49.27L674.0 50.04L675.0 50.83L676.0 51.61L677.0 52.40L678.0 53.19L679.0 53.98L680.0 54.77L681.0 55.55L682.0 56.32L683.0 57.06L684.0 57.71L685.0 58.20" stroke="#175c56" stroke-width="1.70" fill="none" stroke-linejoin="round"/>
<path d="M390.0 42.70L391.0 44.36L392.0 46.63L393.0 49.30L394.0 52.17L395.0 55.18L396.0 58.29L397.0 61.46L398.0 64.63L399.0 67.73L400.0 70.70L401.0 73.50L402.0 76.10L403.0 78.44L404.0 80.47L405.0 82.19L406.0 83.60L407.0 84.61L408.0 85.13L409.0 85.07L410.0 84.43L411.0 83.31L412.0 81.84L413.0 80.10L414.0 78.12L415.0 75.94L416.0 73.62L417.0 71.26L418.0 68.92L419.0 66.64L420.0 64.42L421.0 62.28L422.0 60.31L423.0 58.57L424.0 57.07L425.0 55.81L426.0 54.73L427.0 53.81L428.0 53.05L429.0 52.47L430.0 52.04L431.0 51.77L432.0 51.61L433.0 51.58L434.0 51.68L435.0 51.94L436.0 52.38L437.0 52.99L438.0 53.74L439.0 54.61L440.0 55.55L441.0 56.55L442.0 57.62L443.0 58.75L444.0 59.94L445.0 61.16L446.0 62.40L447.0 63.62L448.0 64.82L449.0 65.98L450.0 67.11L451.0 68.22L452.0 69.30L453.0 70.36L454.0 71.38L455.0 72.34L456.0 73.24L457.0 74.06L458.0 74.78L459.0 75.41L460.0 75.93L461.0 76.36L462.0 76.71L463.0 77.01L464.0 77.28L465.0 77.51L466.0 77.70L467.0 77.87L468.0 78.02L469.0 78.13L470.0 78.22L471.0 78.28L472.0 78.33L473.0 78.36L474.0 78.39L475.0 78.40L476.0 78.40L477.0 78.39L478.0 78.36L479.0 78.32L480.0 78.27L481.0 78.19L482.0 78.10L483.0 77.99L484.0 77.86L485.0 77.73L486.0 77.61L487.0 77.49L488.0 77.40L489.0 77.34L490.0 77.33L491.0 77.37L492.0 77.46L493.0 77.60L494.0 77.79L495.0 78.03L496.0 78.33L497.0 78.72L498.0 79.23L499.0 79.91L500.0 80.74L501.0 81.72L502.0 82.81L503.0 84.03L504.0 85.37L505.0 86.86L506.0 88.50L507.0 90.27L508.0 92.18L509.0 94.24L510.0 96.47L511.0 98.85L512.0 101.37L513.0 103.99L514.0 106.67L515.0 109.36L516.0 112.03L517.0 114.65L518.0 117.21L519.0 119.70L520.0 122.08L521.0 124.28L522.0 126.27L523.0 127.99L524.0 129.43L525.0 130.55L526.0 131.32L527.0 131.68L528.0 131.60L529.0 131.16L530.0 130.37L531.0 129.20L532.0 127.62L533.0 125.65L534.0 123.38L535.0 120.88L536.0 118.19L537.0 115.37L538.0 112.47L539.0 109.55L540.0 106.65L541.0 103.77L542.0 100.90L543.0 98.04L544.0 95.20L545.0 92.42L546.0 89.74L547.0 87.16L548.0 84.72L549.0 82.38L550.0 80.13L551.0 77.97L552.0 75.89L553.0 73.90L554.0 72.02L555.0 70.26L556.0 68.62L557.0 67.08L558.0 65.63L559.0 64.25L560.0 62.94L561.0 61.69L562.0 60.53L563.0 59.46L564.0 58.49L565.0 57.62L566.0 56.82L567.0 56.08L568.0 55.38L569.0 54.73L570.0 54.13L571.0 53.60L572.0 53.14L573.0 52.79L574.0 52.55L575.0 52.43L576.0 52.43L577.0 52.56L578.0 52.84L579.0 53.26L580.0 53.84L581.0 54.60L582.0 55.56L583.0 56.73L584.0 58.10L585.0 59.65L586.0 61.36L587.0 63.24L588.0 65.33L589.0 67.67L590.0 70.32L591.0 73.28L592.0 76.53L593.0 80.02L594.0 83.66L595.0 87.43L596.0 91.30L597.0 95.30L598.0 99.46L599.0 103.73L600.0 108.06L601.0 112.34L602.0 116.49L603.0 120.44L604.0 124.16L605.0 127.67L606.0 130.97L607.0 134.03L608.0 136.77L609.0 139.12L610.0 141.04L611.0 142.56L612.0 143.72L613.0 143.95L614.0 143.71L615.0 142.97L616.0 141.74L617.0 140.07L618.0 138.00L619.0 135.51L620.0 132.57L621.0 129.18L622.0 125.42L623.0 121.37L624.0 117.04L625.0 112.42L626.0 107.51L627.0 102.40L628.0 97.26L629.0 92.26L630.0 87.50L631.0 83.00L632.0 78.71L633.0 74.58L634.0 70.59L635.0 66.72L636.0 62.99L637.0 59.41L638.0 56.01L639.0 52.81L640.0 49.86L641.0 47.16L642.0 44.69L643.0 42.47L644.0 40.54L645.0 38.94L646.0 37.69L647.0 36.73L648.0 35.97L649.0 35.38L650.0 34.94L651.0 34.66L652.0 34.57L653.0 34.53L654.0 34.65L655.0 34.89L656.0 35.22L657.0 35.63L658.0 36.08L659.0 36.58L660.0 37.12L661.0 37.71L662.0 38.35L663.0 39.03L664.0 39.73L665.0 40.46L666.0 41.21L667.0 41.99L668.0 42.79L669.0 43.60L670.0 44.43L671.0 45.27L672.0 46.12L673.0 46.98L674.0 47.85L675.0 48.73L676.0 49.61L677.0 50.50L678.0 51.39L679.0 52.28L680.0 53.17L681.0 54.05L682.0 54.93L683.0 55.77L684.0 56.51L685.0 57.06" stroke="#146632" stroke-width="1.70" fill="none" stroke-linejoin="round"/>
<path d="M390.0 40.30L391.0 42.21L392.0 44.84L393.0 47.95L394.0 51.33L395.0 54.90L396.0 58.61L397.0 62.42L398.0 66.24L399.0 69.98L400.0 73.57L401.0 76.99L402.0 80.17L403.0 83.03L404.0 85.54L405.0 87.69L406.0 89.45L407.0 90.75L408.0 91.44L409.0 91.41L410.0 90.70L411.0 89.40L412.0 87.68L413.0 85.65L414.0 83.34L415.0 80.78L416.0 78.04L417.0 75.25L418.0 72.47L419.0 69.74L420.0 67.08L421.0 64.51L422.0 62.12L423.0 59.98L424.0 58.12L425.0 56.52L426.0 55.12L427.0 53.92L428.0 52.90L429.0 52.09L430.0 51.48L431.0 51.03L432.0 50.73L433.0 50.57L434.0 50.56L435.0 50.73L436.0 51.11L437.0 51.67L438.0 52.39L439.0 53.22L440.0 54.13L441.0 55.12L442.0 56.19L443.0 57.34L444.0 58.56L445.0 59.83L446.0 61.13L447.0 62.42L448.0 63.69L449.0 64.92L450.0 66.12L451.0 67.30L452.0 68.47L453.0 69.63L454.0 70.76L455.0 71.83L456.0 72.85L457.0 73.77L458.0 74.60L459.0 75.31L460.0 75.91L461.0 76.41L462.0 76.83L463.0 77.20L464.0 77.53L465.0 77.82L466.0 78.08L467.0 78.30L468.0 78.49L469.0 78.65L470.0 78.77L471.0 78.87L472.0 78.95L473.0 79.02L474.0 79.07L475.0 79.12L476.0 79.15L477.0 79.16L478.0 79.16L479.0 79.14L480.0 79.11L481.0 79.05L482.0 78.96L483.0 78.86L484.0 78.74L485.0 78.61L486.0 78.49L487.0 78.36L488.0 78.26L489.0 78.18L490.0 78.14L491.0 78.14L492.0 78.17L493.0 78.25L494.0 78.35L495.0 78.50L496.0 78.70L497.0 78.99L498.0 79.40L499.0 79.95L500.0 80.65L501.0 81.48L502.0 82.41L503.0 83.44L504.0 84.58L505.0 85.85L506.0 87.24L507.0 88.75L508.0 90.39L509.0 92.17L510.0 94.10L511.0 96.19L512.0 98.39L513.0 100.67L514.0 102.98L515.0 105.30L516.0 107.59L517.0 109.84L518.0 112.06L519.0 114.23L520.0 116.32L521.0 118.27L522.0 120.03L523.0 121.58L524.0 122.88L525.0 123.90L526.0 124.58L527.0 124.91L528.0 124.87L529.0 124.51L530.0 123.83L531.0 122.81L532.0 121.42L533.0 119.68L534.0 117.64L535.0 115.36L536.0 112.89L537.0 110.27L538.0 107.54L539.0 104.77L540.0 101.99L541.0 99.21L542.0 96.41L543.0 93.61L544.0 90.82L545.0 88.08L546.0 85.43L547.0 82.88L548.0 80.45L549.0 78.13L550.0 75.88L551.0 73.72L552.0 71.64L553.0 69.67L554.0 67.83L555.0 66.13L556.0 64.58L557.0 63.14L558.0 61.80L559.0 60.53L560.0 59.33L561.0 58.21L562.0 57.17L563.0 56.23L564.0 55.39L565.0 54.65L566.0 53.98L567.0 53.37L568.0 52.80L569.0 52.27L570.0 51.78L571.0 51.36L572.0 51.01L573.0 50.76L574.0 50.63L575.0 50.64L576.0 50.74L577.0 50.99L578.0 51.38L579.0 51.92L580.0 52.62L581.0 53.50L582.0 54.60L583.0 55.92L584.0 57.45L585.0 59.19L586.0 61.10L587.0 63.20L588.0 65.52L589.0 68.14L590.0 71.09L591.0 74.39L592.0 78.01L593.0 81.88L594.0 85.92L595.0 90.08L596.0 94.36L597.0 98.79L598.0 103.39L599.0 108.12L600.0 112.92L601.0 117.66L602.0 122.25L603.0 126.61L604.0 130.70L605.0 134.55L606.0 138.18L607.0 141.53L608.0 144.53L609.0 147.10L610.0 149.20L611.0 150.87L612.0 152.14L613.0 152.54L614.0 152.41L615.0 151.73L616.0 150.50L617.0 148.79L618.0 146.62L619.0 143.97L620.0 140.81L621.0 137.14L622.0 133.05L623.0 128.62L624.0 123.88L625.0 118.81L626.0 113.40L627.0 107.76L628.0 102.06L629.0 96.52L630.0 91.25L631.0 86.27L632.0 81.53L633.0 76.97L634.0 72.56L635.0 68.28L636.0 64.12L637.0 60.10L638.0 56.24L639.0 52.59L640.0 49.19L641.0 46.07L642.0 43.21L643.0 40.62L644.0 38.35L645.0 36.45L646.0 34.95L647.0 33.77L648.0 32.83L649.0 32.08L650.0 31.50L651.0 31.12L652.0 30.95L653.0 30.88L654.0 30.99L655.0 31.24L656.0 31.58L657.0 32.00L658.0 32.47L659.0 32.99L660.0 33.57L661.0 34.20L662.0 34.89L663.0 35.62L664.0 36.39L665.0 37.18L666.0 38.00L667.0 38.85L668.0 39.73L669.0 40.64L670.0 41.55L671.0 42.49L672.0 43.44L673.0 44.40L674.0 45.38L675.0 46.36L676.0 47.36L677.0 48.36L678.0 49.36L679.0 50.37L680.0 51.37L681.0 52.37L682.0 53.36L683.0 54.31L684.0 55.15L685.0 55.78" stroke="#147a28" stroke-width="1.70" fill="none" stroke-linejoin="round"/>
<path d="M390.0 38.37L391.0 40.48L392.0 43.40L393.0 46.86L394.0 50.64L395.0 54.67L396.0 58.87L397.0 63.19L398.0 67.53L399.0 71.79L400.0 75.90L401.0 79.80L402.0 83.44L403.0 86.74L404.0 89.63L405.0 92.12L406.0 94.20L407.0 95.74L408.0 96.58L409.0 96.62L410.0 95.85L411.0 94.43L412.0 92.52L413.0 90.27L414.0 87.69L415.0 84.83L416.0 81.76L417.0 78.61L418.0 75.47L419.0 72.38L420.0 69.34L421.0 66.42L422.0 63.67L423.0 61.20L424.0 59.03L425.0 57.13L426.0 55.47L427.0 54.01L428.0 52.77L429.0 51.76L430.0 50.97L431.0 50.38L432.0 49.95L433.0 49.66L434.0 49.55L435.0 49.65L436.0 49.96L437.0 50.48L438.0 51.16L439.0 51.96L440.0 52.84L441.0 53.81L442.0 54.88L443.0 56.04L444.0 57.29L445.0 58.60L446.0 59.95L447.0 61.30L448.0 62.63L449.0 63.92L450.0 65.18L451.0 66.43L452.0 67.68L453.0 68.93L454.0 70.16L455.0 71.34L456.0 72.47L457.0 73.50L458.0 74.42L459.0 75.22L460.0 75.89L461.0 76.46L462.0 76.95L463.0 77.38L464.0 77.78L465.0 78.13L466.0 78.45L467.0 78.73L468.0 78.97L469.0 79.17L470.0 79.33L471.0 79.46L472.0 79.58L473.0 79.68L474.0 79.77L475.0 79.85L476.0 79.91L477.0 79.95L478.0 79.98L479.0 79.99L480.0 79.97L481.0 79.93L482.0 79.86L483.0 79.77L484.0 79.65L485.0 79.53L486.0 79.41L487.0 79.28L488.0 79.17L489.0 79.08L490.0 79.01L491.0 78.96L492.0 78.94L493.0 78.93L494.0 78.96L495.0 79.01L496.0 79.11L497.0 79.28L498.0 79.57L499.0 80.00L500.0 80.55L501.0 81.22L502.0 81.97L503.0 82.80L504.0 83.72L505.0 84.73L506.0 85.85L507.0 87.07L508.0 88.40L509.0 89.86L510.0 91.46L511.0 93.19L512.0 95.03L513.0 96.92L514.0 98.82L515.0 100.69L516.0 102.54L517.0 104.37L518.0 106.17L519.0 107.96L520.0 109.70L521.0 111.34L522.0 112.83L523.0 114.15L524.0 115.27L525.0 116.15L526.0 116.74L527.0 116.98L528.0 116.99L529.0 116.71L530.0 116.16L531.0 115.32L532.0 114.15L533.0 112.66L534.0 110.88L535.0 108.86L536.0 106.64L537.0 104.25L538.0 101.72L539.0 99.12L540.0 96.48L541.0 93.80L542.0 91.10L543.0 88.36L544.0 85.62L545.0 82.92L546.0 80.30L547.0 77.78L548.0 75.36L549.0 73.05L550.0 70.80L551.0 68.63L552.0 66.55L553.0 64.60L554.0 62.79L555.0 61.16L556.0 59.70L557.0 58.37L558.0 57.16L559.0 56.02L560.0 54.95L561.0 53.97L562.0 53.07L563.0 52.28L564.0 51.59L565.0 51.01L566.0 50.50L567.0 50.04L568.0 49.62L569.0 49.23L570.0 48.88L571.0 48.59L572.0 48.36L573.0 48.23L574.0 48.24L575.0 48.39L576.0 48.59L577.0 48.96L578.0 49.47L579.0 50.14L580.0 50.97L581.0 51.99L582.0 53.26L583.0 54.77L584.0 56.53L585.0 58.51L586.0 60.71L587.0 63.13L588.0 65.82L589.0 68.85L590.0 72.30L591.0 76.16L592.0 80.40L593.0 84.93L594.0 89.66L595.0 94.55L596.0 99.59L597.0 104.82L598.0 110.28L599.0 115.93L600.0 121.68L601.0 127.38L602.0 132.91L603.0 138.17L604.0 143.12L605.0 147.79L606.0 152.21L607.0 156.32L608.0 160.03L609.0 163.24L610.0 165.91L611.0 168.10L612.0 169.82L613.0 170.23L614.0 170.02L615.0 169.14L616.0 167.60L617.0 165.48L618.0 162.81L619.0 159.57L620.0 155.71L621.0 151.26L622.0 146.33L623.0 141.01L624.0 135.35L625.0 129.31L626.0 122.89L627.0 116.21L628.0 109.50L629.0 102.98L630.0 96.81L631.0 91.02L632.0 85.54L633.0 80.31L634.0 75.26L635.0 70.36L636.0 65.60L637.0 60.97L638.0 56.52L639.0 52.31L640.0 48.40L641.0 44.80L642.0 41.51L643.0 38.55L644.0 35.95L645.0 33.80L646.0 32.10L647.0 30.78L648.0 29.73L649.0 28.90L650.0 28.28L651.0 27.89L652.0 27.73L653.0 27.64L654.0 27.74L655.0 27.99L656.0 28.34L657.0 28.77L658.0 29.25L659.0 29.80L660.0 30.41L661.0 31.08L662.0 31.82L663.0 32.60L664.0 33.42L665.0 34.26L666.0 35.15L667.0 36.07L668.0 37.02L669.0 38.00L670.0 39.00L671.0 40.02L672.0 41.05L673.0 42.11L674.0 43.18L675.0 44.26L676.0 45.35L677.0 46.46L678.0 47.56L679.0 48.67L680.0 49.78L681.0 50.88L682.0 51.97L683.0 53.02L684.0 53.94L685.0 54.64" stroke="#168a1e" stroke-width="1.70" fill="none" stroke-linejoin="round"/>
<path d="M390.0 37.45L391.0 39.65L392.0 42.71L393.0 46.33L394.0 50.32L395.0 54.56L396.0 59.00L397.0 63.56L398.0 68.15L399.0 72.66L400.0 77.01L401.0 81.14L402.0 85.01L403.0 88.51L404.0 91.59L405.0 94.24L406.0 96.46L407.0 98.11L408.0 99.03L409.0 99.08L410.0 98.29L411.0 96.80L412.0 94.80L413.0 92.44L414.0 89.74L415.0 86.73L416.0 83.50L417.0 80.18L418.0 76.86L419.0 73.60L420.0 70.40L421.0 67.30L422.0 64.39L423.0 61.76L424.0 59.45L425.0 57.42L426.0 55.63L427.0 54.06L428.0 52.71L429.0 51.61L430.0 50.75L431.0 50.09L432.0 49.59L433.0 49.26L434.0 49.10L435.0 49.16L436.0 49.44L437.0 49.94L438.0 50.61L439.0 51.39L440.0 52.27L441.0 53.23L442.0 54.29L443.0 55.46L444.0 56.73L445.0 58.06L446.0 59.42L447.0 60.80L448.0 62.16L449.0 63.48L450.0 64.77L451.0 66.05L452.0 67.33L453.0 68.62L454.0 69.89L455.0 71.13L456.0 72.30L457.0 73.38L458.0 74.35L459.0 75.18L460.0 75.88L461.0 76.48L462.0 77.00L463.0 77.46L464.0 77.89L465.0 78.27L466.0 78.61L467.0 78.91L468.0 79.17L469.0 79.39L470.0 79.57L471.0 79.72L472.0 79.85L473.0 79.96L474.0 80.07L475.0 80.16L476.0 80.23L477.0 80.29L478.0 80.33L479.0 80.35L480.0 80.34L481.0 80.30L482.0 80.24L483.0 80.15L484.0 80.05L485.0 79.92L486.0 79.80L487.0 79.67L488.0 79.56L489.0 79.46L490.0 79.37L491.0 79.31L492.0 79.26L493.0 79.23L494.0 79.21L495.0 79.22L496.0 79.28L497.0 79.41L498.0 79.65L499.0 80.02L500.0 80.51L501.0 81.11L502.0 81.79L503.0 82.53L504.0 83.35L505.0 84.25L506.0 85.26L507.0 86.36L508.0 87.56L509.0 88.88L510.0 90.34L511.0 91.92L512.0 93.60L513.0 95.33L514.0 97.05L515.0 98.75L516.0 100.41L517.0 102.05L518.0 103.68L519.0 105.31L520.0 106.90L521.0 108.41L522.0 109.79L523.0 111.02L524.0 112.07L525.0 112.89L526.0 113.43L527.0 113.64L528.0 113.61L529.0 113.31L530.0 112.75L531.0 111.94L532.0 110.81L533.0 109.38L534.0 107.67L535.0 105.72L536.0 103.57L537.0 101.23L538.0 98.76L539.0 96.19L540.0 93.57L541.0 90.90L542.0 88.19L543.0 85.44L544.0 82.68L545.0 79.95L546.0 77.29L547.0 74.73L548.0 72.28L549.0 69.91L550.0 67.61L551.0 65.38L552.0 63.24L553.0 61.24L554.0 59.40L555.0 57.75L556.0 56.29L557.0 54.98L558.0 53.79L559.0 52.69L560.0 51.66L561.0 50.72L562.0 49.88L563.0 49.15L564.0 48.53L565.0 48.01L566.0 47.57L567.0 47.19L568.0 46.84L569.0 46.53L570.0 46.25L571.0 46.03L572.0 45.87L573.0 45.81L574.0 45.89L575.0 46.14L576.0 46.47L577.0 46.97L578.0 47.63L579.0 48.43L580.0 49.41L581.0 50.59L582.0 52.01L583.0 53.72L584.0 55.69L585.0 57.91L586.0 60.36L587.0 63.07L588.0 66.08L589.0 69.47L590.0 73.33L591.0 77.66L592.0 82.41L593.0 87.47L594.0 92.76L595.0 98.21L596.0 103.83L597.0 109.68L598.0 115.78L599.0 122.11L600.0 128.54L601.0 134.94L602.0 141.13L603.0 147.02L604.0 152.55L605.0 157.77L606.0 162.70L607.0 167.29L608.0 171.44L609.0 175.04L610.0 178.04L611.0 180.50L612.0 182.47L613.0 183.12L614.0 183.10L615.0 182.33L616.0 180.81L617.0 178.63L618.0 175.83L619.0 172.36L620.0 168.18L621.0 163.31L622.0 157.88L623.0 152.02L624.0 145.75L625.0 139.04L626.0 131.87L627.0 124.38L628.0 116.82L629.0 109.48L630.0 102.53L631.0 96.01L632.0 89.85L633.0 83.97L634.0 78.29L635.0 72.75L636.0 67.33L637.0 62.03L638.0 56.88L639.0 51.96L640.0 47.37L641.0 43.12L642.0 39.22L643.0 35.68L644.0 32.56L645.0 29.95L646.0 27.85L647.0 26.20L648.0 24.86L649.0 23.78L650.0 22.95L651.0 22.38L652.0 22.11L653.0 21.97L654.0 22.05L655.0 22.31L656.0 22.67L657.0 23.12L658.0 23.63L659.0 24.22L660.0 24.88L661.0 25.62L662.0 26.44L663.0 27.31L664.0 28.22L665.0 29.17L666.0 30.16L667.0 31.19L668.0 32.27L669.0 33.38L670.0 34.53L671.0 35.69L672.0 36.89L673.0 38.10L674.0 39.34L675.0 40.59L676.0 41.85L677.0 43.13L678.0 44.41L679.0 45.70L680.0 46.98L681.0 48.26L682.0 49.53L683.0 50.75L684.0 51.83L685.0 52.64" stroke="#189218" stroke-width="1.70" fill="none" stroke-linejoin="round"/>
<path d="M390.0 36.63L391.0 38.92L392.0 42.09L393.0 45.87L394.0 50.03L395.0 54.46L396.0 59.11L397.0 63.89L398.0 68.70L399.0 73.43L400.0 77.99L401.0 82.33L402.0 86.39L403.0 90.07L404.0 93.31L405.0 96.11L406.0 98.46L407.0 100.21L408.0 101.19L409.0 101.26L410.0 100.45L411.0 98.90L412.0 96.83L413.0 94.36L414.0 91.55L415.0 88.42L416.0 85.05L417.0 81.57L418.0 78.11L419.0 74.69L420.0 71.34L421.0 68.09L422.0 65.03L423.0 62.26L424.0 59.82L425.0 57.67L426.0 55.77L427.0 54.10L428.0 52.66L429.0 51.47L430.0 50.54L431.0 49.82L432.0 49.27L433.0 48.89L434.0 48.69L435.0 48.72L436.0 48.98L437.0 49.46L438.0 50.11L439.0 50.88L440.0 51.74L441.0 52.70L442.0 53.76L443.0 54.94L444.0 56.21L445.0 57.56L446.0 58.95L447.0 60.35L448.0 61.73L449.0 63.08L450.0 64.40L451.0 65.70L452.0 67.02L453.0 68.34L454.0 69.66L455.0 70.94L456.0 72.15L457.0 73.27L458.0 74.28L459.0 75.14L460.0 75.87L461.0 76.50L462.0 77.04L463.0 77.53L464.0 77.98L465.0 78.39L466.0 78.76L467.0 79.08L468.0 79.36L469.0 79.59L470.0 79.79L471.0 79.95L472.0 80.09L473.0 80.23L474.0 80.34L475.0 80.45L476.0 80.53L477.0 80.61L478.0 80.66L479.0 80.68L480.0 80.68L481.0 80.66L482.0 80.60L483.0 80.52L484.0 80.41L485.0 80.29L486.0 80.17L487.0 80.04L488.0 79.93L489.0 79.82L490.0 79.72L491.0 79.64L492.0 79.57L493.0 79.51L494.0 79.46L495.0 79.43L496.0 79.45L497.0 79.53L498.0 79.72L499.0 80.03L500.0 80.47L501.0 81.00L502.0 81.61L503.0 82.27L504.0 82.99L505.0 83.79L506.0 84.68L507.0 85.66L508.0 86.74L509.0 87.93L510.0 89.24L511.0 90.68L512.0 92.21L513.0 93.77L514.0 95.32L515.0 96.83L516.0 98.31L517.0 99.77L518.0 101.22L519.0 102.69L520.0 104.13L521.0 105.51L522.0 106.77L523.0 107.90L524.0 108.87L525.0 109.63L526.0 110.12L527.0 110.30L528.0 110.22L529.0 109.89L530.0 109.32L531.0 108.51L532.0 107.42L533.0 106.04L534.0 104.39L535.0 102.51L536.0 100.42L537.0 98.14L538.0 95.70L539.0 93.17L540.0 90.56L541.0 87.90L542.0 85.17L543.0 82.40L544.0 79.61L545.0 76.84L546.0 74.14L547.0 71.54L548.0 69.03L549.0 66.61L550.0 64.24L551.0 61.94L552.0 59.73L553.0 57.66L554.0 55.78L555.0 54.11L556.0 52.65L557.0 51.36L558.0 50.19L559.0 49.11L560.0 48.12L561.0 47.22L562.0 46.43L563.0 45.76L564.0 45.20L565.0 44.76L566.0 44.40L567.0 44.09L568.0 43.82L569.0 43.58L570.0 43.38L571.0 43.22L572.0 43.13L573.0 43.15L574.0 43.32L575.0 43.67L576.0 44.19L577.0 44.88L578.0 45.73L579.0 46.72L580.0 47.87L581.0 49.23L582.0 50.85L583.0 52.75L584.0 54.94L585.0 57.38L586.0 60.07L587.0 63.02L588.0 66.28L589.0 69.96L590.0 74.12L591.0 78.77L592.0 83.84L593.0 89.23L594.0 94.83L595.0 100.59L596.0 106.50L597.0 112.62L598.0 119.00L599.0 125.59L600.0 132.28L601.0 138.89L602.0 145.26L603.0 151.27L604.0 156.89L605.0 162.15L606.0 167.09L607.0 171.66L608.0 175.75L609.0 179.25L610.0 182.12L611.0 184.43L612.0 186.21L613.0 187.15L614.0 187.39L615.0 186.85L616.0 185.54L617.0 183.53L618.0 180.87L619.0 177.50L620.0 173.36L621.0 168.49L622.0 163.02L623.0 157.06L624.0 150.65L625.0 143.75L626.0 136.33L627.0 128.54L628.0 120.65L629.0 112.96L630.0 105.67L631.0 98.81L632.0 92.32L633.0 86.11L634.0 80.09L635.0 74.21L636.0 68.41L637.0 62.69L638.0 57.10L639.0 51.74L640.0 46.68L641.0 41.99L642.0 37.66L643.0 33.69L644.0 30.17L645.0 27.19L646.0 24.77L647.0 22.82L648.0 21.23L649.0 19.91L650.0 18.86L651.0 18.11L652.0 17.69L653.0 17.51L654.0 17.58L655.0 17.84L656.0 18.22L657.0 18.68L658.0 19.22L659.0 19.83L660.0 20.54L661.0 21.33L662.0 22.21L663.0 23.15L664.0 24.13L665.0 25.16L666.0 26.23L667.0 27.36L668.0 28.54L669.0 29.76L670.0 31.01L671.0 32.30L672.0 33.61L673.0 34.95L674.0 36.32L675.0 37.70L676.0 39.10L677.0 40.51L678.0 41.93L679.0 43.36L680.0 44.79L681.0 46.21L682.0 47.62L683.0 48.98L684.0 50.18L685.0 51.07" stroke="#1a9614" stroke-width="1.80" fill="none" stroke-linejoin="round"/>
<path d="M390.0 35.14L391.0 37.58L392.0 40.98L393.0 45.03L394.0 49.50L395.0 54.28L396.0 59.31L397.0 64.49L398.0 69.70L399.0 74.83L400.0 79.78L401.0 84.50L402.0 88.92L403.0 92.93L404.0 96.47L405.0 99.53L406.0 102.07L407.0 103.97L408.0 105.02L409.0 105.09L410.0 104.19L411.0 102.51L412.0 100.27L413.0 97.61L414.0 94.58L415.0 91.20L416.0 87.57L417.0 83.83L418.0 80.09L419.0 76.41L420.0 72.80L421.0 69.30L422.0 66.01L423.0 63.02L424.0 60.38L425.0 58.05L426.0 55.98L427.0 54.15L428.0 52.58L429.0 51.28L430.0 50.26L431.0 49.45L432.0 48.84L433.0 48.39L434.0 48.15L435.0 48.14L436.0 48.37L437.0 48.84L438.0 49.48L439.0 50.24L440.0 51.10L441.0 52.05L442.0 53.12L443.0 54.31L444.0 55.61L445.0 56.98L446.0 58.40L447.0 59.84L448.0 61.25L449.0 62.64L450.0 63.99L451.0 65.33L452.0 66.68L453.0 68.05L454.0 69.41L455.0 70.74L456.0 72.00L457.0 73.17L458.0 74.21L459.0 75.11L460.0 75.87L461.0 76.51L462.0 77.08L463.0 77.60L464.0 78.07L465.0 78.50L466.0 78.89L467.0 79.22L468.0 79.52L469.0 79.76L470.0 79.97L471.0 80.14L472.0 80.30L473.0 80.44L474.0 80.57L475.0 80.68L476.0 80.78L477.0 80.86L478.0 80.92L479.0 80.96L480.0 80.96L481.0 80.94L482.0 80.89L483.0 80.81L484.0 80.71L485.0 80.59L486.0 80.47L487.0 80.34L488.0 80.22L489.0 80.11L490.0 80.01L491.0 79.91L492.0 79.82L493.0 79.73L494.0 79.65L495.0 79.60L496.0 79.58L497.0 79.63L498.0 79.78L499.0 80.05L500.0 80.44L501.0 80.92L502.0 81.46L503.0 82.05L504.0 82.70L505.0 83.42L506.0 84.22L507.0 85.10L508.0 86.08L509.0 87.16L510.0 88.36L511.0 89.68L512.0 91.09L513.0 92.52L514.0 93.92L515.0 95.29L516.0 96.62L517.0 97.93L518.0 99.25L519.0 100.58L520.0 101.91L521.0 103.18L522.0 104.35L523.0 105.40L524.0 106.31L525.0 107.02L526.0 107.47L527.0 107.63L528.0 107.49L529.0 107.11L530.0 106.51L531.0 105.69L532.0 104.61L533.0 103.25L534.0 101.63L535.0 99.78L536.0 97.73L537.0 95.48L538.0 93.07L539.0 90.54L540.0 87.93L541.0 85.26L542.0 82.51L543.0 79.70L544.0 76.87L545.0 74.06L546.0 71.30L547.0 68.64L548.0 66.08L549.0 63.58L550.0 61.14L551.0 58.76L552.0 56.48L553.0 54.34L554.0 52.40L555.0 50.70L556.0 49.22L557.0 47.93L558.0 46.77L559.0 45.71L560.0 44.74L561.0 43.87L562.0 43.12L563.0 42.49L564.0 41.99L565.0 41.60L566.0 41.30L567.0 41.06L568.0 40.86L569.0 40.68L570.0 40.55L571.0 40.45L572.0 40.42L573.0 40.50L574.0 40.75L575.0 41.20L576.0 41.87L577.0 42.74L578.0 43.76L579.0 44.92L580.0 46.24L581.0 47.77L582.0 49.57L583.0 51.68L584.0 54.09L585.0 56.78L586.0 59.73L587.0 62.96L588.0 66.53L589.0 70.55L590.0 75.10L591.0 80.18L592.0 85.70L593.0 91.56L594.0 97.64L595.0 103.88L596.0 110.27L597.0 116.89L598.0 123.78L599.0 130.91L600.0 138.12L601.0 145.25L602.0 152.10L603.0 158.55L604.0 164.56L605.0 170.17L606.0 175.43L607.0 180.29L608.0 184.62L609.0 188.31L610.0 191.33L611.0 193.73L612.0 195.58L613.0 196.81L614.0 197.30L615.0 196.94L616.0 195.76L617.0 193.81L618.0 191.14L619.0 187.69L620.0 183.39L621.0 178.27L622.0 172.48L623.0 166.15L624.0 159.32L625.0 151.92L626.0 143.93L627.0 135.51L628.0 126.96L629.0 118.60L630.0 110.67L631.0 103.20L632.0 96.15L633.0 89.38L634.0 82.82L635.0 76.37L636.0 69.99L637.0 63.66L638.0 57.43L639.0 51.41L640.0 45.72L641.0 40.41L642.0 35.49L643.0 30.96L644.0 26.92L645.0 23.47L646.0 20.65L647.0 18.36L648.0 16.46L649.0 14.87L650.0 13.58L651.0 12.63L652.0 12.06L653.0 11.83L654.0 11.90L655.0 12.16L656.0 12.55L657.0 13.03L658.0 13.60L659.0 14.25L660.0 15.01L661.0 15.87L662.0 16.83L663.0 17.86L664.0 18.93L665.0 20.06L666.0 21.24L667.0 22.48L668.0 23.79L669.0 25.14L670.0 26.54L671.0 27.97L672.0 29.44L673.0 30.94L674.0 32.47L675.0 34.02L676.0 35.59L677.0 37.18L678.0 38.78L679.0 40.39L680.0 41.99L681.0 43.60L682.0 45.18L683.0 46.71L684.0 48.07L685.0 49.08" stroke="#1a9a12" stroke-width="2.80" fill="none" stroke-linejoin="round"/>

<path transform="scale(1,1.150)" d="M390.0 62.48L390.5 62.29L391.0 61.97L391.5 61.48L392.0 60.86L392.5 60.15L393.0 59.40L393.5 58.64L394.0 57.89L394.5 57.15L395.0 56.42L395.5 55.69L396.0 54.98L396.5 54.27L397.0 53.57L397.5 52.89L398.0 52.22L398.5 51.57L399.0 50.94L399.5 50.31L400.0 49.68L400.5 49.02L401.0 48.32L401.5 47.55L402.0 46.69L402.5 45.77L403.0 44.80L403.5 43.86L404.0 42.98L404.5 42.19L405.0 41.50L405.5 40.88L406.0 40.32L406.5 39.80L407.0 39.32L407.5 38.86L408.0 38.44L408.5 38.05L409.0 37.73L409.5 37.48L410.0 37.33L410.5 37.30L411.0 37.37L411.5 37.55L412.0 37.83L412.5 38.21L413.0 38.66L413.5 39.21L414.0 39.85L414.5 40.62L415.0 41.52L415.5 42.52L416.0 43.62L416.5 44.79L417.0 46.03L417.5 47.31L418.0 48.62L418.5 49.95L419.0 51.27L419.5 52.58L420.0 53.88L420.5 55.16L421.0 56.44L421.5 57.71L422.0 58.98L422.5 60.24L423.0 61.49L423.5 62.72L424.0 63.91L424.5 65.06L425.0 66.16L425.5 67.20L426.0 68.19L426.5 69.11L427.0 69.99L427.5 70.83L428.0 71.63L428.5 72.40L429.0 73.13L429.5 73.81L430.0 74.45L430.5 75.04L431.0 75.56L431.5 76.02L432.0 76.43L432.5 76.80L433.0 77.14L433.5 77.45L434.0 77.75L434.5 78.02L435.0 78.27L435.5 78.49L436.0 78.68L436.5 78.83L437.0 78.94L437.5 79.02L438.0 79.06L438.5 79.07L439.0 79.05L439.5 79.01L440.0 78.95L440.5 78.88L441.0 78.79L441.5 78.69L442.0 78.57L442.5 78.42L443.0 78.24L443.5 78.02L444.0 77.77L444.5 77.47L445.0 77.16L445.5 76.82L446.0 76.47L446.5 76.10L447.0 75.72L447.5 75.31L448.0 74.89L448.5 74.45L449.0 73.98L449.5 73.49L450.0 72.96L450.5 72.41L451.0 71.84L451.5 71.26L452.0 70.69L452.5 70.15L453.0 69.64L453.5 69.17L454.0 68.74L454.5 68.35L455.0 67.98L455.5 67.64L456.0 67.33L456.5 67.05L457.0 66.79L457.5 66.55L458.0 66.34L458.5 66.15L459.0 65.99L459.5 65.87L460.0 65.81L460.5 65.81L461.0 65.89L461.5 66.04L462.0 66.25L462.5 66.52L463.0 66.83L463.5 67.17L464.0 67.53L464.5 67.91L465.0 68.30L465.5 68.71L466.0 69.15L466.5 69.61L467.0 70.10L467.5 70.60L468.0 71.10L468.5 71.59L469.0 72.05L469.5 72.47L470.0 72.84L470.5 73.17L471.0 73.44L471.5 73.68L472.0 73.89L472.5 74.08L473.0 74.24L473.5 74.39L474.0 74.51L474.5 74.61L475.0 74.67L475.5 74.69L476.0 74.68L476.5 74.62L477.0 74.52L477.5 74.38L478.0 74.20L478.5 73.99L479.0 73.76L479.5 73.50L480.0 73.21L480.5 72.88L481.0 72.51L481.5 72.09L482.0 71.61L482.5 71.09L483.0 70.53L483.5 69.94L484.0 69.33L484.5 68.70L485.0 68.04L485.5 67.37L486.0 66.67L486.5 65.97L487.0 65.29L487.5 64.62L488.0 63.98L488.5 63.37L489.0 62.78L489.5 62.22L490.0 61.68L490.5 61.15L491.0 60.64L491.5 60.15L492.0 59.67L492.5 59.21L493.0 58.75L493.5 58.32L494.0 57.88L494.5 57.45L495.0 57.02L495.5 56.57L496.0 56.12L496.5 55.66L497.0 55.22L497.5 54.81L498.0 54.43L498.5 54.12L499.0 53.85L499.5 53.63L500.0 53.45L500.5 53.31L501.0 53.22L501.5 53.18L502.0 53.20L502.5 53.27L503.0 53.41L503.5 53.59L504.0 53.80L504.5 54.04L505.0 54.29L505.5 54.54L506.0 54.79L506.5 55.05L507.0 55.32L507.5 55.60L508.0 55.87L508.5 56.13L509.0 56.37L509.5 56.56L510.0 56.71L510.5 56.78L511.0 56.79L511.5 56.73L512.0 56.60L512.5 56.42L513.0 56.20L513.5 55.95L514.0 55.70L514.5 55.45L515.0 55.22L515.5 55.02L516.0 54.84L516.5 54.69L517.0 54.55L517.5 54.43L518.0 54.32L518.5 54.22L519.0 54.13L519.5 54.06L520.0 54.01L520.5 53.98L521.0 53.98L521.5 54.01L522.0 54.07L522.5 54.16L523.0 54.28L523.5 54.43L524.0 54.61L524.5 54.83L525.0 55.09L525.5 55.41L526.0 55.78L526.5 56.22L527.0 56.72L527.5 57.28L528.0 57.91L528.5 58.63L529.0 59.42L529.5 60.30L530.0 61.24L530.5 62.24L531.0 63.30L531.5 64.41L532.0 65.58L532.5 66.80L533.0 68.08L533.5 69.42L534.0 70.85L534.5 72.36L535.0 73.97L535.5 75.65L536.0 77.35L536.5 79.01L537.0 80.58L537.5 82.03L538.0 83.33L538.5 84.46L539.0 85.38L539.5 86.05L540.0 86.48L540.5 86.71L541.0 86.78L541.5 86.75L542.0 86.64L542.5 86.44L543.0 86.14L543.5 85.74L544.0 85.23L544.5 84.65L545.0 84.01L545.5 83.32L546.0 82.61L546.5 81.87L547.0 81.12L547.5 80.38L548.0 79.66L548.5 78.98L549.0 78.34L549.5 77.74L550.0 77.17L550.5 76.63L551.0 76.12L551.5 75.65L552.0 75.20L552.5 74.81L553.0 74.50L553.5 74.28L554.0 74.18L554.5 74.20L555.0 74.32L555.5 74.54L556.0 74.85L556.5 75.26L557.0 75.78L557.5 76.42L558.0 77.21L558.5 78.13L559.0 79.18L559.5 80.35L560.0 81.59L560.5 82.88L561.0 84.20L561.5 85.54L562.0 86.93L562.5 88.37L563.0 89.92L563.5 91.59L564.0 93.40L564.5 95.36L565.0 97.45L565.5 99.63L566.0 101.85L566.5 104.04L567.0 106.15L567.5 108.15L568.0 110.02L568.5 111.78L569.0 113.44L569.5 115.00L570.0 116.48L570.5 117.86L571.0 119.15L571.5 120.37L572.0 121.50L572.5 122.54L573.0 123.47L573.5 124.30L574.0 125.02L574.5 125.64L575.0 126.18L575.5 126.64L576.0 127.01L576.5 127.29L577.0 127.44L577.5 127.44L578.0 127.28L578.5 126.93L579.0 126.43L579.5 125.77L580.0 124.98L580.5 124.06L581.0 122.99L581.5 121.76L582.0 120.36L582.5 118.78L583.0 117.04L583.5 115.11L584.0 113.00L584.5 110.72L585.0 108.26L585.5 105.65L586.0 102.88L586.5 99.98L587.0 96.98L587.5 93.92L588.0 90.86L588.5 87.86L589.0 84.94L589.5 82.14L590.0 79.47L590.5 76.90L591.0 74.40L591.5 71.95L592.0 69.52L592.5 67.11L593.0 64.72L593.5 62.41L594.0 60.23L594.5 58.22L595.0 56.40L595.5 54.78L596.0 53.30L596.5 51.92L597.0 50.60L597.5 49.33L598.0 48.11L598.5 46.96L599.0 45.90L599.5 44.93L600.0 44.05L600.5 43.25L601.0 42.52L601.5 41.86L602.0 41.25L602.5 40.70L603.0 40.19L603.5 39.74L604.0 39.34L604.5 38.98L605.0 38.66L605.5 38.38L606.0 38.13L606.5 37.94L607.0 37.79L607.5 37.69L608.0 37.64L608.5 37.63L609.0 37.66L609.5 37.70L610.0 37.75L610.5 37.82L611.0 37.91L611.5 38.01L612.0 38.15L612.5 38.31L613.0 38.51L613.5 38.74L614.0 39.00L614.5 39.28L615.0 39.56L615.5 39.85L616.0 40.13L616.5 40.42L617.0 40.70L617.5 40.99L618.0 41.28L618.5 41.59L619.0 41.90L619.5 42.24L620.0 42.58L620.5 42.95L621.0 43.33L621.5 43.71L622.0 44.09L622.5 44.45L623.0 44.80L623.5 45.12L624.0 45.42L624.5 45.70L625.0 45.97L625.5 46.22L626.0 46.47L626.5 46.71L627.0 46.94L627.5 47.17L628.0 47.39L628.5 47.61L629.0 47.83L629.5 48.04L630.0 48.26L630.5 48.47L631.0 48.68L631.5 48.89L632.0 49.09L632.5 49.29L633.0 49.49L633.5 49.68L634.0 49.88L634.5 50.07L635.0 50.26L635.5 50.46L636.0 50.65L636.5 50.84L637.0 51.03L637.5 51.23L638.0 51.43L638.5 51.63L639.0 51.83L639.5 52.04L640.0 52.25L640.5 52.46L641.0 52.68L641.5 52.90L642.0 53.12L642.5 53.34L643.0 53.56L643.5 53.78L644.0 54.00L644.5 54.21L645.0 54.43L645.5 54.64L646.0 54.85L646.5 55.06L647.0 55.26L647.5 55.46L648.0 55.66L648.5 55.86L649.0 56.06L649.5 56.27L650.0 56.49L650.5 56.70L651.0 56.92L651.5 57.14L652.0 57.35L652.5 57.56L653.0 57.75L653.5 57.94L654.0 58.11L654.5 58.27L655.0 58.40L655.5 58.52L656.0 58.61L656.5 58.67L657.0 58.71L657.5 58.72L658.0 58.69L658.5 58.63L659.0 58.55L659.5 58.43L660.0 58.30L660.5 58.14L661.0 57.96L661.5 57.77L662.0 57.57L662.5 57.36L663.0 57.15L663.5 56.94L664.0 56.74L664.5 56.54L665.0 56.34L665.5 56.17L666.0 56.00L666.5 55.85L667.0 55.71L667.5 55.57L668.0 55.44L668.5 55.31L669.0 55.18L669.5 55.06L670.0 54.94L670.5 54.82L671.0 54.70L671.5 54.58L672.0 54.46L672.5 54.35L673.0 54.24L673.5 54.13L674.0 54.02L674.5 53.91L675.0 53.81L675.5 53.70L676.0 53.60L676.5 53.50L677.0 53.41L677.5 53.31L678.0 53.22L678.5 53.13L679.0 53.04L679.5 52.96L680.0 52.87L680.5 52.79L681.0 52.72L681.5 52.64L682.0 52.57L682.5 52.50L683.0 52.43L683.5 52.37L684.0 52.31L684.5 52.26L685.0 52.22" stroke="#757575" stroke-width="1.65" fill="none" stroke-dasharray="0.01 4.2" stroke-linecap="round"/>

</g>
<rect x="50.30" y="0.90" width="294.40" height="219.40" fill="none" stroke="#404040" stroke-width="1.60"/>
<rect x="390.10" y="0.90" width="294.10" height="219.40" fill="none" stroke="#404040" stroke-width="1.60"/>
<path d="M51.52 220.30V217.80M51.52 0.90V3.40M75.05 220.30V215.50M75.05 0.90V5.70M98.58 220.30V217.80M98.58 0.90V3.40M122.11 220.30V215.50M122.11 0.90V5.70M145.64 220.30V217.80M145.64 0.90V3.40M169.17 220.30V215.50M169.17 0.90V5.70M192.70 220.30V217.80M192.70 0.90V3.40M216.23 220.30V215.50M216.23 0.90V5.70M239.76 220.30V217.80M239.76 0.90V3.40M263.29 220.30V215.50M263.29 0.90V5.70M286.82 220.30V217.80M286.82 0.90V3.40M310.35 220.30V215.50M310.35 0.90V5.70M333.88 220.30V217.80M333.88 0.90V3.40M50.30 216.50H55.10M344.70 216.50H339.90M50.30 186.50H52.80M344.70 186.50H342.20M50.30 156.50H55.10M344.70 156.50H339.90M50.30 126.50H52.80M344.70 126.50H342.20M50.30 96.50H55.10M344.70 96.50H339.90M50.30 66.50H52.80M344.70 66.50H342.20M50.30 36.50H55.10M344.70 36.50H339.90M50.30 6.50H52.80M344.70 6.50H342.20M404.00 220.30V215.50M404.00 0.90V5.70M430.69 220.30V217.80M430.69 0.90V3.40M457.38 220.30V215.50M457.38 0.90V5.70M484.07 220.30V217.80M484.07 0.90V3.40M510.76 220.30V215.50M510.76 0.90V5.70M537.45 220.30V217.80M537.45 0.90V3.40M564.14 220.30V215.50M564.14 0.90V5.70M590.83 220.30V217.80M590.83 0.90V3.40M617.52 220.30V215.50M617.52 0.90V5.70M644.21 220.30V217.80M644.21 0.90V3.40M670.90 220.30V215.50M670.90 0.90V5.70" stroke="#404040" stroke-width="1.5" fill="none"/>
<text x="75.05" y="239.10" font-size="12.00" text-anchor="middle" fill="#555" font-weight="normal" >1700</text>

<text x="404.00" y="239.10" font-size="12.00" text-anchor="middle" fill="#555" font-weight="normal" >1700</text>

<text x="122.11" y="239.10" font-size="12.00" text-anchor="middle" fill="#555" font-weight="normal" >1680</text>

<text x="457.38" y="239.10" font-size="12.00" text-anchor="middle" fill="#555" font-weight="normal" >1680</text>

<text x="169.17" y="239.10" font-size="12.00" text-anchor="middle" fill="#555" font-weight="normal" >1660</text>

<text x="510.76" y="239.10" font-size="12.00" text-anchor="middle" fill="#555" font-weight="normal" >1660</text>

<text x="216.23" y="239.10" font-size="12.00" text-anchor="middle" fill="#555" font-weight="normal" >1640</text>

<text x="564.14" y="239.10" font-size="12.00" text-anchor="middle" fill="#555" font-weight="normal" >1640</text>

<text x="263.29" y="239.10" font-size="12.00" text-anchor="middle" fill="#555" font-weight="normal" >1620</text>

<text x="617.52" y="239.10" font-size="12.00" text-anchor="middle" fill="#555" font-weight="normal" >1620</text>

<text x="310.35" y="239.10" font-size="12.00" text-anchor="middle" fill="#555" font-weight="normal" >1600</text>

<text x="670.90" y="239.10" font-size="12.00" text-anchor="middle" fill="#555" font-weight="normal" >1600</text>

<text x="43.40" y="221.50" font-size="12.00" text-anchor="end" fill="#555" font-weight="normal" >0.00</text>

<text x="43.40" y="161.50" font-size="12.00" text-anchor="end" fill="#555" font-weight="normal" >0.05</text>

<text x="43.40" y="101.50" font-size="12.00" text-anchor="end" fill="#555" font-weight="normal" >0.10</text>

<text x="43.40" y="41.50" font-size="12.00" text-anchor="end" fill="#555" font-weight="normal" >0.15</text>

<text x="128.2" y="261.6" font-size="15.5" fill="#555">Wavenumber / cm<tspan font-size="9" dy="-6.6" dx="1.6">-</tspan><tspan font-size="9" dx="1.4">1</tspan></text>
<text x="467.4" y="261.6" font-size="15.5" fill="#555">Wavenumber / cm<tspan font-size="9" dy="-6.6" dx="1.6">-</tspan><tspan font-size="9" dx="1.4">1</tspan></text>
<text transform="translate(11.6,173) rotate(-90)" font-size="15.5" textLength="125.5" lengthAdjust="spacingAndGlyphs" fill="#555">Absorbance / A.U.</text>
<text transform="translate(381.4,139.8) rotate(-90)" font-size="14.5" textLength="56" lengthAdjust="spacingAndGlyphs" fill="#555">d<tspan font-size="10" dy="-6" dx="1">2</tspan><tspan dy="6" dx="0.6">A/d&#957;</tspan><tspan font-size="10" dy="-6" dx="0.4">2</tspan></text>
<text transform="translate(62.8,23.8) scale(0.86,0.98)" font-size="19.3" fill="#000" stroke="#000" stroke-width="0.45" font-weight="bold">a</text>
<text transform="translate(401.8,23.6) scale(1.0,0.99)" font-size="17.6" fill="#000" stroke="#000" stroke-width="0.4" font-weight="bold">b</text>
<text x="121.20" y="20.50" font-size="12.00" text-anchor="end" fill="#111" font-weight="normal" >2</text>

<path d="M123.20 14.90L173.20 24.00" stroke="#111" stroke-width="1.1"/>
<text x="121.20" y="34.70" font-size="12.00" text-anchor="end" fill="#111" font-weight="normal" >4</text>

<path d="M123.20 29.30L166.50 35.40" stroke="#111" stroke-width="1.1"/>
<text x="121.20" y="48.60" font-size="12.00" text-anchor="end" fill="#111" font-weight="normal" >8</text>

<path d="M123.20 43.00L165.60 44.00" stroke="#111" stroke-width="1.1"/>
<text x="121.20" y="64.00" font-size="12.00" text-anchor="end" fill="#111" font-weight="normal" >12</text>

<path d="M123.20 58.70L165.60 50.70" stroke="#111" stroke-width="1.1"/>
<text x="121.20" y="78.10" font-size="12.00" text-anchor="end" fill="#111" font-weight="normal" >20</text>

<path d="M123.20 70.70L164.60 53.00" stroke="#111" stroke-width="1.1"/>
<text x="121.20" y="92.00" font-size="12.00" text-anchor="end" fill="#111" font-weight="normal" >40</text>

<path d="M123.20 85.90L165.60 57.90" stroke="#111" stroke-width="1.1"/>
<text x="320.80" y="20.50" font-size="12.00" text-anchor="end" fill="#111" font-weight="normal" >240</text>

<path d="M299.10 16.00L261.70 38.30" stroke="#111" stroke-width="1.1"/>
<text x="320.80" y="34.70" font-size="12.00" text-anchor="end" fill="#111" font-weight="normal" >190</text>

<path d="M299.10 29.30L262.60 44.00" stroke="#111" stroke-width="1.1"/>
<text x="320.80" y="48.60" font-size="12.00" text-anchor="end" fill="#111" font-weight="normal" >160</text>

<path d="M299.10 44.00L262.60 50.60" stroke="#111" stroke-width="1.1"/>
<text x="320.80" y="64.00" font-size="12.00" text-anchor="end" fill="#111" font-weight="normal" >130</text>

<path d="M299.10 58.70L263.00 59.80" stroke="#111" stroke-width="1.1"/>
<text x="320.80" y="78.10" font-size="12.00" text-anchor="end" fill="#111" font-weight="normal" >100</text>

<path d="M299.10 73.10L264.10 73.90" stroke="#111" stroke-width="1.1"/>
<text x="320.80" y="92.00" font-size="12.00" text-anchor="end" fill="#111" font-weight="normal" >70</text>

<path d="M299.70 87.20L263.60 84.00" stroke="#111" stroke-width="1.1"/>
<path d="M81.10 181.00V172.14" stroke="#000" stroke-width="1.5"/><path d="M81.10 165.90L79.00 173.70L83.20 173.70Z" fill="#000"/>
<path d="M187.20 64.80V73.46" stroke="#000" stroke-width="1.5"/><path d="M187.20 79.70L185.10 71.90L189.30 71.90Z" fill="#000"/>
<path d="M256.80 40.30V30.64" stroke="#000" stroke-width="1.5"/><path d="M256.80 24.40L254.70 32.20L258.90 32.20Z" fill="#000"/>
<path d="M408.70 103.50V114.46" stroke="#000" stroke-width="1.5"/><path d="M408.70 120.70L406.60 112.90L410.80 112.90Z" fill="#000"/>
<path d="M526.70 107.60V100.24" stroke="#000" stroke-width="1.5"/><path d="M526.70 94.00L524.60 101.80L528.80 101.80Z" fill="#000"/>
<path d="M614.20 194.00V204.16" stroke="#000" stroke-width="1.5"/><path d="M614.20 210.40L612.10 202.60L616.30 202.60Z" fill="#000"/>
<rect x="61.58" y="237.90" width="3.07" height="2.70" fill="#fff"/>
<rect x="65.85" y="237.90" width="2.41" height="2.70" fill="#fff"/>
<rect x="390.53" y="237.90" width="3.07" height="2.70" fill="#fff"/>
<rect x="394.80" y="237.90" width="2.41" height="2.70" fill="#fff"/>
<rect x="108.64" y="237.90" width="3.07" height="2.70" fill="#fff"/>
<rect x="112.91" y="237.90" width="2.41" height="2.70" fill="#fff"/>
<rect x="443.91" y="237.90" width="3.07" height="2.70" fill="#fff"/>
<rect x="448.18" y="237.90" width="2.41" height="2.70" fill="#fff"/>
<rect x="155.70" y="237.90" width="3.07" height="2.70" fill="#fff"/>
<rect x="159.97" y="237.90" width="2.41" height="2.70" fill="#fff"/>
<rect x="497.29" y="237.90" width="3.07" height="2.70" fill="#fff"/>
<rect x="501.56" y="237.90" width="2.41" height="2.70" fill="#fff"/>
<rect x="202.76" y="237.90" width="3.07" height="2.70" fill="#fff"/>
<rect x="207.03" y="237.90" width="2.41" height="2.70" fill="#fff"/>
<rect x="550.67" y="237.90" width="3.07" height="2.70" fill="#fff"/>
<rect x="554.94" y="237.90" width="2.41" height="2.70" fill="#fff"/>
<rect x="249.82" y="237.90" width="3.07" height="2.70" fill="#fff"/>
<rect x="254.09" y="237.90" width="2.41" height="2.70" fill="#fff"/>
<rect x="604.05" y="237.90" width="3.07" height="2.70" fill="#fff"/>
<rect x="608.32" y="237.90" width="2.41" height="2.70" fill="#fff"/>
<rect x="296.88" y="237.90" width="3.07" height="2.70" fill="#fff"/>
<rect x="301.15" y="237.90" width="2.41" height="2.70" fill="#fff"/>
<rect x="657.43" y="237.90" width="3.07" height="2.70" fill="#fff"/>
<rect x="661.70" y="237.90" width="2.41" height="2.70" fill="#fff"/>
<rect x="29.92" y="100.30" width="3.07" height="2.70" fill="#fff"/>
<rect x="34.19" y="100.30" width="2.41" height="2.70" fill="#fff"/>
<rect x="29.92" y="40.30" width="3.07" height="2.70" fill="#fff"/>
<rect x="34.19" y="40.30" width="2.41" height="2.70" fill="#fff"/>
<rect x="259.30" y="254.10" width="2.30" height="2.40" fill="#fff"/>
<rect x="262.50" y="254.10" width="1.80" height="2.40" fill="#fff"/>
<rect x="598.50" y="254.10" width="2.30" height="2.40" fill="#fff"/>
<rect x="601.70" y="254.10" width="1.80" height="2.40" fill="#fff"/>
<rect x="107.72" y="62.80" width="3.07" height="2.70" fill="#fff"/>
<rect x="111.99" y="62.80" width="2.41" height="2.70" fill="#fff"/>
<rect x="300.65" y="33.50" width="3.07" height="2.70" fill="#fff"/>
<rect x="304.92" y="33.50" width="2.41" height="2.70" fill="#fff"/>
<rect x="300.65" y="47.40" width="3.07" height="2.70" fill="#fff"/>
<rect x="304.92" y="47.40" width="2.41" height="2.70" fill="#fff"/>
<rect x="300.65" y="62.80" width="3.07" height="2.70" fill="#fff"/>
<rect x="304.92" y="62.80" width="2.41" height="2.70" fill="#fff"/>
<rect x="300.65" y="76.90" width="3.07" height="2.70" fill="#fff"/>
<rect x="304.92" y="76.90" width="2.41" height="2.70" fill="#fff"/>
</svg>
</body></html>
